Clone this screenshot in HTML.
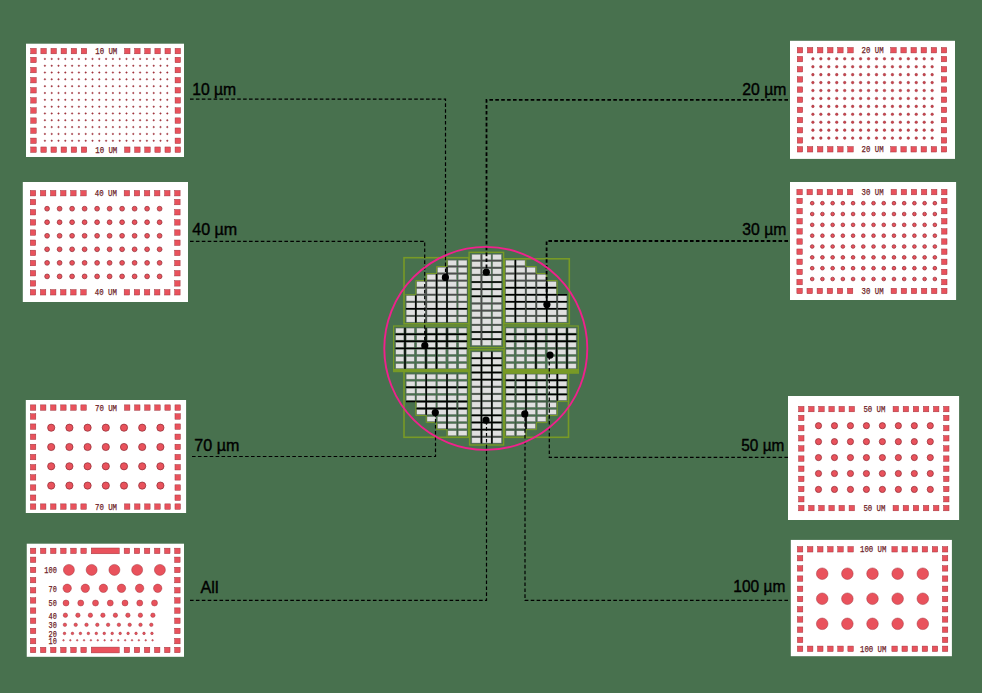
<!DOCTYPE html>
<html><head><meta charset="utf-8"><style>
html,body{margin:0;padding:0;background:#48714e;width:982px;height:693px;overflow:hidden}
svg{display:block}
.lb{font-family:"Liberation Mono",monospace;font-size:9px;fill:#6e1c25;stroke:#6e1c25;stroke-width:0.25}
.tx{font-family:"Liberation Sans",sans-serif;font-size:17px;fill:#000;stroke:#000;stroke-width:0.4}
</style></head><body>
<svg width="982" height="693" viewBox="0 0 982 693">
<rect width="982" height="693" fill="#48714e"/>
<g fill="#e9525c" stroke="#9a2f38" stroke-width="0.45">
<rect x="26" y="43.7" width="158" height="113.3" fill="#fff" stroke="none"/>
<rect x="30.77" y="48.37" width="5.45" height="5.45"/>
<rect x="175.07" y="48.37" width="5.45" height="5.45"/>
<rect x="40.87" y="48.37" width="5.45" height="5.45"/>
<rect x="164.97" y="48.37" width="5.45" height="5.45"/>
<rect x="50.97" y="48.37" width="5.45" height="5.45"/>
<rect x="154.87" y="48.37" width="5.45" height="5.45"/>
<rect x="61.07" y="48.37" width="5.45" height="5.45"/>
<rect x="144.77" y="48.37" width="5.45" height="5.45"/>
<rect x="71.17" y="48.37" width="5.45" height="5.45"/>
<rect x="134.67" y="48.37" width="5.45" height="5.45"/>
<rect x="81.27" y="48.37" width="5.45" height="5.45"/>
<rect x="124.57" y="48.37" width="5.45" height="5.45"/>
<rect x="30.77" y="146.97" width="5.45" height="5.45"/>
<rect x="175.07" y="146.97" width="5.45" height="5.45"/>
<rect x="40.87" y="146.97" width="5.45" height="5.45"/>
<rect x="164.97" y="146.97" width="5.45" height="5.45"/>
<rect x="50.97" y="146.97" width="5.45" height="5.45"/>
<rect x="154.87" y="146.97" width="5.45" height="5.45"/>
<rect x="61.07" y="146.97" width="5.45" height="5.45"/>
<rect x="144.77" y="146.97" width="5.45" height="5.45"/>
<rect x="71.17" y="146.97" width="5.45" height="5.45"/>
<rect x="134.67" y="146.97" width="5.45" height="5.45"/>
<rect x="81.27" y="146.97" width="5.45" height="5.45"/>
<rect x="124.57" y="146.97" width="5.45" height="5.45"/>
<rect x="30.77" y="57.27" width="5.45" height="5.45"/>
<rect x="30.77" y="67.37" width="5.45" height="5.45"/>
<rect x="30.77" y="77.47" width="5.45" height="5.45"/>
<rect x="30.77" y="87.57" width="5.45" height="5.45"/>
<rect x="30.77" y="97.67" width="5.45" height="5.45"/>
<rect x="30.77" y="107.77" width="5.45" height="5.45"/>
<rect x="30.77" y="117.87" width="5.45" height="5.45"/>
<rect x="30.77" y="127.97" width="5.45" height="5.45"/>
<rect x="30.77" y="138.07" width="5.45" height="5.45"/>
<rect x="175.07" y="57.27" width="5.45" height="5.45"/>
<rect x="175.07" y="67.37" width="5.45" height="5.45"/>
<rect x="175.07" y="77.47" width="5.45" height="5.45"/>
<rect x="175.07" y="87.57" width="5.45" height="5.45"/>
<rect x="175.07" y="97.67" width="5.45" height="5.45"/>
<rect x="175.07" y="107.77" width="5.45" height="5.45"/>
<rect x="175.07" y="117.87" width="5.45" height="5.45"/>
<rect x="175.07" y="127.97" width="5.45" height="5.45"/>
<rect x="175.07" y="138.07" width="5.45" height="5.45"/>
<text x="106.25" y="54.1" class="lb" text-anchor="middle" textLength="22.05" lengthAdjust="spacingAndGlyphs">10 UM</text>
<text x="106.25" y="152.7" class="lb" text-anchor="middle" textLength="22.05" lengthAdjust="spacingAndGlyphs">10 UM</text>
<circle cx="44.9" cy="58.9" r="0.75" fill="#a3303b"/>
<circle cx="51.7" cy="58.9" r="0.75" fill="#a3303b"/>
<circle cx="58.5" cy="58.9" r="0.75" fill="#a3303b"/>
<circle cx="65.3" cy="58.9" r="0.75" fill="#a3303b"/>
<circle cx="72.1" cy="58.9" r="0.75" fill="#a3303b"/>
<circle cx="78.9" cy="58.9" r="0.75" fill="#a3303b"/>
<circle cx="85.7" cy="58.9" r="0.75" fill="#a3303b"/>
<circle cx="92.5" cy="58.9" r="0.75" fill="#a3303b"/>
<circle cx="99.3" cy="58.9" r="0.75" fill="#a3303b"/>
<circle cx="106.1" cy="58.9" r="0.75" fill="#a3303b"/>
<circle cx="112.9" cy="58.9" r="0.75" fill="#a3303b"/>
<circle cx="119.7" cy="58.9" r="0.75" fill="#a3303b"/>
<circle cx="126.5" cy="58.9" r="0.75" fill="#a3303b"/>
<circle cx="133.3" cy="58.9" r="0.75" fill="#a3303b"/>
<circle cx="140.1" cy="58.9" r="0.75" fill="#a3303b"/>
<circle cx="146.9" cy="58.9" r="0.75" fill="#a3303b"/>
<circle cx="153.7" cy="58.9" r="0.75" fill="#a3303b"/>
<circle cx="160.5" cy="58.9" r="0.75" fill="#a3303b"/>
<circle cx="167.3" cy="58.9" r="0.75" fill="#a3303b"/>
<circle cx="44.9" cy="65.72" r="0.75" fill="#a3303b"/>
<circle cx="51.7" cy="65.72" r="0.75" fill="#a3303b"/>
<circle cx="58.5" cy="65.72" r="0.75" fill="#a3303b"/>
<circle cx="65.3" cy="65.72" r="0.75" fill="#a3303b"/>
<circle cx="72.1" cy="65.72" r="0.75" fill="#a3303b"/>
<circle cx="78.9" cy="65.72" r="0.75" fill="#a3303b"/>
<circle cx="85.7" cy="65.72" r="0.75" fill="#a3303b"/>
<circle cx="92.5" cy="65.72" r="0.75" fill="#a3303b"/>
<circle cx="99.3" cy="65.72" r="0.75" fill="#a3303b"/>
<circle cx="106.1" cy="65.72" r="0.75" fill="#a3303b"/>
<circle cx="112.9" cy="65.72" r="0.75" fill="#a3303b"/>
<circle cx="119.7" cy="65.72" r="0.75" fill="#a3303b"/>
<circle cx="126.5" cy="65.72" r="0.75" fill="#a3303b"/>
<circle cx="133.3" cy="65.72" r="0.75" fill="#a3303b"/>
<circle cx="140.1" cy="65.72" r="0.75" fill="#a3303b"/>
<circle cx="146.9" cy="65.72" r="0.75" fill="#a3303b"/>
<circle cx="153.7" cy="65.72" r="0.75" fill="#a3303b"/>
<circle cx="160.5" cy="65.72" r="0.75" fill="#a3303b"/>
<circle cx="167.3" cy="65.72" r="0.75" fill="#a3303b"/>
<circle cx="44.9" cy="72.54" r="0.75" fill="#a3303b"/>
<circle cx="51.7" cy="72.54" r="0.75" fill="#a3303b"/>
<circle cx="58.5" cy="72.54" r="0.75" fill="#a3303b"/>
<circle cx="65.3" cy="72.54" r="0.75" fill="#a3303b"/>
<circle cx="72.1" cy="72.54" r="0.75" fill="#a3303b"/>
<circle cx="78.9" cy="72.54" r="0.75" fill="#a3303b"/>
<circle cx="85.7" cy="72.54" r="0.75" fill="#a3303b"/>
<circle cx="92.5" cy="72.54" r="0.75" fill="#a3303b"/>
<circle cx="99.3" cy="72.54" r="0.75" fill="#a3303b"/>
<circle cx="106.1" cy="72.54" r="0.75" fill="#a3303b"/>
<circle cx="112.9" cy="72.54" r="0.75" fill="#a3303b"/>
<circle cx="119.7" cy="72.54" r="0.75" fill="#a3303b"/>
<circle cx="126.5" cy="72.54" r="0.75" fill="#a3303b"/>
<circle cx="133.3" cy="72.54" r="0.75" fill="#a3303b"/>
<circle cx="140.1" cy="72.54" r="0.75" fill="#a3303b"/>
<circle cx="146.9" cy="72.54" r="0.75" fill="#a3303b"/>
<circle cx="153.7" cy="72.54" r="0.75" fill="#a3303b"/>
<circle cx="160.5" cy="72.54" r="0.75" fill="#a3303b"/>
<circle cx="167.3" cy="72.54" r="0.75" fill="#a3303b"/>
<circle cx="44.9" cy="79.36" r="0.75" fill="#a3303b"/>
<circle cx="51.7" cy="79.36" r="0.75" fill="#a3303b"/>
<circle cx="58.5" cy="79.36" r="0.75" fill="#a3303b"/>
<circle cx="65.3" cy="79.36" r="0.75" fill="#a3303b"/>
<circle cx="72.1" cy="79.36" r="0.75" fill="#a3303b"/>
<circle cx="78.9" cy="79.36" r="0.75" fill="#a3303b"/>
<circle cx="85.7" cy="79.36" r="0.75" fill="#a3303b"/>
<circle cx="92.5" cy="79.36" r="0.75" fill="#a3303b"/>
<circle cx="99.3" cy="79.36" r="0.75" fill="#a3303b"/>
<circle cx="106.1" cy="79.36" r="0.75" fill="#a3303b"/>
<circle cx="112.9" cy="79.36" r="0.75" fill="#a3303b"/>
<circle cx="119.7" cy="79.36" r="0.75" fill="#a3303b"/>
<circle cx="126.5" cy="79.36" r="0.75" fill="#a3303b"/>
<circle cx="133.3" cy="79.36" r="0.75" fill="#a3303b"/>
<circle cx="140.1" cy="79.36" r="0.75" fill="#a3303b"/>
<circle cx="146.9" cy="79.36" r="0.75" fill="#a3303b"/>
<circle cx="153.7" cy="79.36" r="0.75" fill="#a3303b"/>
<circle cx="160.5" cy="79.36" r="0.75" fill="#a3303b"/>
<circle cx="167.3" cy="79.36" r="0.75" fill="#a3303b"/>
<circle cx="44.9" cy="86.18" r="0.75" fill="#a3303b"/>
<circle cx="51.7" cy="86.18" r="0.75" fill="#a3303b"/>
<circle cx="58.5" cy="86.18" r="0.75" fill="#a3303b"/>
<circle cx="65.3" cy="86.18" r="0.75" fill="#a3303b"/>
<circle cx="72.1" cy="86.18" r="0.75" fill="#a3303b"/>
<circle cx="78.9" cy="86.18" r="0.75" fill="#a3303b"/>
<circle cx="85.7" cy="86.18" r="0.75" fill="#a3303b"/>
<circle cx="92.5" cy="86.18" r="0.75" fill="#a3303b"/>
<circle cx="99.3" cy="86.18" r="0.75" fill="#a3303b"/>
<circle cx="106.1" cy="86.18" r="0.75" fill="#a3303b"/>
<circle cx="112.9" cy="86.18" r="0.75" fill="#a3303b"/>
<circle cx="119.7" cy="86.18" r="0.75" fill="#a3303b"/>
<circle cx="126.5" cy="86.18" r="0.75" fill="#a3303b"/>
<circle cx="133.3" cy="86.18" r="0.75" fill="#a3303b"/>
<circle cx="140.1" cy="86.18" r="0.75" fill="#a3303b"/>
<circle cx="146.9" cy="86.18" r="0.75" fill="#a3303b"/>
<circle cx="153.7" cy="86.18" r="0.75" fill="#a3303b"/>
<circle cx="160.5" cy="86.18" r="0.75" fill="#a3303b"/>
<circle cx="167.3" cy="86.18" r="0.75" fill="#a3303b"/>
<circle cx="44.9" cy="93" r="0.75" fill="#a3303b"/>
<circle cx="51.7" cy="93" r="0.75" fill="#a3303b"/>
<circle cx="58.5" cy="93" r="0.75" fill="#a3303b"/>
<circle cx="65.3" cy="93" r="0.75" fill="#a3303b"/>
<circle cx="72.1" cy="93" r="0.75" fill="#a3303b"/>
<circle cx="78.9" cy="93" r="0.75" fill="#a3303b"/>
<circle cx="85.7" cy="93" r="0.75" fill="#a3303b"/>
<circle cx="92.5" cy="93" r="0.75" fill="#a3303b"/>
<circle cx="99.3" cy="93" r="0.75" fill="#a3303b"/>
<circle cx="106.1" cy="93" r="0.75" fill="#a3303b"/>
<circle cx="112.9" cy="93" r="0.75" fill="#a3303b"/>
<circle cx="119.7" cy="93" r="0.75" fill="#a3303b"/>
<circle cx="126.5" cy="93" r="0.75" fill="#a3303b"/>
<circle cx="133.3" cy="93" r="0.75" fill="#a3303b"/>
<circle cx="140.1" cy="93" r="0.75" fill="#a3303b"/>
<circle cx="146.9" cy="93" r="0.75" fill="#a3303b"/>
<circle cx="153.7" cy="93" r="0.75" fill="#a3303b"/>
<circle cx="160.5" cy="93" r="0.75" fill="#a3303b"/>
<circle cx="167.3" cy="93" r="0.75" fill="#a3303b"/>
<circle cx="44.9" cy="99.82" r="0.75" fill="#a3303b"/>
<circle cx="51.7" cy="99.82" r="0.75" fill="#a3303b"/>
<circle cx="58.5" cy="99.82" r="0.75" fill="#a3303b"/>
<circle cx="65.3" cy="99.82" r="0.75" fill="#a3303b"/>
<circle cx="72.1" cy="99.82" r="0.75" fill="#a3303b"/>
<circle cx="78.9" cy="99.82" r="0.75" fill="#a3303b"/>
<circle cx="85.7" cy="99.82" r="0.75" fill="#a3303b"/>
<circle cx="92.5" cy="99.82" r="0.75" fill="#a3303b"/>
<circle cx="99.3" cy="99.82" r="0.75" fill="#a3303b"/>
<circle cx="106.1" cy="99.82" r="0.75" fill="#a3303b"/>
<circle cx="112.9" cy="99.82" r="0.75" fill="#a3303b"/>
<circle cx="119.7" cy="99.82" r="0.75" fill="#a3303b"/>
<circle cx="126.5" cy="99.82" r="0.75" fill="#a3303b"/>
<circle cx="133.3" cy="99.82" r="0.75" fill="#a3303b"/>
<circle cx="140.1" cy="99.82" r="0.75" fill="#a3303b"/>
<circle cx="146.9" cy="99.82" r="0.75" fill="#a3303b"/>
<circle cx="153.7" cy="99.82" r="0.75" fill="#a3303b"/>
<circle cx="160.5" cy="99.82" r="0.75" fill="#a3303b"/>
<circle cx="167.3" cy="99.82" r="0.75" fill="#a3303b"/>
<circle cx="44.9" cy="106.64" r="0.75" fill="#a3303b"/>
<circle cx="51.7" cy="106.64" r="0.75" fill="#a3303b"/>
<circle cx="58.5" cy="106.64" r="0.75" fill="#a3303b"/>
<circle cx="65.3" cy="106.64" r="0.75" fill="#a3303b"/>
<circle cx="72.1" cy="106.64" r="0.75" fill="#a3303b"/>
<circle cx="78.9" cy="106.64" r="0.75" fill="#a3303b"/>
<circle cx="85.7" cy="106.64" r="0.75" fill="#a3303b"/>
<circle cx="92.5" cy="106.64" r="0.75" fill="#a3303b"/>
<circle cx="99.3" cy="106.64" r="0.75" fill="#a3303b"/>
<circle cx="106.1" cy="106.64" r="0.75" fill="#a3303b"/>
<circle cx="112.9" cy="106.64" r="0.75" fill="#a3303b"/>
<circle cx="119.7" cy="106.64" r="0.75" fill="#a3303b"/>
<circle cx="126.5" cy="106.64" r="0.75" fill="#a3303b"/>
<circle cx="133.3" cy="106.64" r="0.75" fill="#a3303b"/>
<circle cx="140.1" cy="106.64" r="0.75" fill="#a3303b"/>
<circle cx="146.9" cy="106.64" r="0.75" fill="#a3303b"/>
<circle cx="153.7" cy="106.64" r="0.75" fill="#a3303b"/>
<circle cx="160.5" cy="106.64" r="0.75" fill="#a3303b"/>
<circle cx="167.3" cy="106.64" r="0.75" fill="#a3303b"/>
<circle cx="44.9" cy="113.46" r="0.75" fill="#a3303b"/>
<circle cx="51.7" cy="113.46" r="0.75" fill="#a3303b"/>
<circle cx="58.5" cy="113.46" r="0.75" fill="#a3303b"/>
<circle cx="65.3" cy="113.46" r="0.75" fill="#a3303b"/>
<circle cx="72.1" cy="113.46" r="0.75" fill="#a3303b"/>
<circle cx="78.9" cy="113.46" r="0.75" fill="#a3303b"/>
<circle cx="85.7" cy="113.46" r="0.75" fill="#a3303b"/>
<circle cx="92.5" cy="113.46" r="0.75" fill="#a3303b"/>
<circle cx="99.3" cy="113.46" r="0.75" fill="#a3303b"/>
<circle cx="106.1" cy="113.46" r="0.75" fill="#a3303b"/>
<circle cx="112.9" cy="113.46" r="0.75" fill="#a3303b"/>
<circle cx="119.7" cy="113.46" r="0.75" fill="#a3303b"/>
<circle cx="126.5" cy="113.46" r="0.75" fill="#a3303b"/>
<circle cx="133.3" cy="113.46" r="0.75" fill="#a3303b"/>
<circle cx="140.1" cy="113.46" r="0.75" fill="#a3303b"/>
<circle cx="146.9" cy="113.46" r="0.75" fill="#a3303b"/>
<circle cx="153.7" cy="113.46" r="0.75" fill="#a3303b"/>
<circle cx="160.5" cy="113.46" r="0.75" fill="#a3303b"/>
<circle cx="167.3" cy="113.46" r="0.75" fill="#a3303b"/>
<circle cx="44.9" cy="120.28" r="0.75" fill="#a3303b"/>
<circle cx="51.7" cy="120.28" r="0.75" fill="#a3303b"/>
<circle cx="58.5" cy="120.28" r="0.75" fill="#a3303b"/>
<circle cx="65.3" cy="120.28" r="0.75" fill="#a3303b"/>
<circle cx="72.1" cy="120.28" r="0.75" fill="#a3303b"/>
<circle cx="78.9" cy="120.28" r="0.75" fill="#a3303b"/>
<circle cx="85.7" cy="120.28" r="0.75" fill="#a3303b"/>
<circle cx="92.5" cy="120.28" r="0.75" fill="#a3303b"/>
<circle cx="99.3" cy="120.28" r="0.75" fill="#a3303b"/>
<circle cx="106.1" cy="120.28" r="0.75" fill="#a3303b"/>
<circle cx="112.9" cy="120.28" r="0.75" fill="#a3303b"/>
<circle cx="119.7" cy="120.28" r="0.75" fill="#a3303b"/>
<circle cx="126.5" cy="120.28" r="0.75" fill="#a3303b"/>
<circle cx="133.3" cy="120.28" r="0.75" fill="#a3303b"/>
<circle cx="140.1" cy="120.28" r="0.75" fill="#a3303b"/>
<circle cx="146.9" cy="120.28" r="0.75" fill="#a3303b"/>
<circle cx="153.7" cy="120.28" r="0.75" fill="#a3303b"/>
<circle cx="160.5" cy="120.28" r="0.75" fill="#a3303b"/>
<circle cx="167.3" cy="120.28" r="0.75" fill="#a3303b"/>
<circle cx="44.9" cy="127.1" r="0.75" fill="#a3303b"/>
<circle cx="51.7" cy="127.1" r="0.75" fill="#a3303b"/>
<circle cx="58.5" cy="127.1" r="0.75" fill="#a3303b"/>
<circle cx="65.3" cy="127.1" r="0.75" fill="#a3303b"/>
<circle cx="72.1" cy="127.1" r="0.75" fill="#a3303b"/>
<circle cx="78.9" cy="127.1" r="0.75" fill="#a3303b"/>
<circle cx="85.7" cy="127.1" r="0.75" fill="#a3303b"/>
<circle cx="92.5" cy="127.1" r="0.75" fill="#a3303b"/>
<circle cx="99.3" cy="127.1" r="0.75" fill="#a3303b"/>
<circle cx="106.1" cy="127.1" r="0.75" fill="#a3303b"/>
<circle cx="112.9" cy="127.1" r="0.75" fill="#a3303b"/>
<circle cx="119.7" cy="127.1" r="0.75" fill="#a3303b"/>
<circle cx="126.5" cy="127.1" r="0.75" fill="#a3303b"/>
<circle cx="133.3" cy="127.1" r="0.75" fill="#a3303b"/>
<circle cx="140.1" cy="127.1" r="0.75" fill="#a3303b"/>
<circle cx="146.9" cy="127.1" r="0.75" fill="#a3303b"/>
<circle cx="153.7" cy="127.1" r="0.75" fill="#a3303b"/>
<circle cx="160.5" cy="127.1" r="0.75" fill="#a3303b"/>
<circle cx="167.3" cy="127.1" r="0.75" fill="#a3303b"/>
<circle cx="44.9" cy="133.92" r="0.75" fill="#a3303b"/>
<circle cx="51.7" cy="133.92" r="0.75" fill="#a3303b"/>
<circle cx="58.5" cy="133.92" r="0.75" fill="#a3303b"/>
<circle cx="65.3" cy="133.92" r="0.75" fill="#a3303b"/>
<circle cx="72.1" cy="133.92" r="0.75" fill="#a3303b"/>
<circle cx="78.9" cy="133.92" r="0.75" fill="#a3303b"/>
<circle cx="85.7" cy="133.92" r="0.75" fill="#a3303b"/>
<circle cx="92.5" cy="133.92" r="0.75" fill="#a3303b"/>
<circle cx="99.3" cy="133.92" r="0.75" fill="#a3303b"/>
<circle cx="106.1" cy="133.92" r="0.75" fill="#a3303b"/>
<circle cx="112.9" cy="133.92" r="0.75" fill="#a3303b"/>
<circle cx="119.7" cy="133.92" r="0.75" fill="#a3303b"/>
<circle cx="126.5" cy="133.92" r="0.75" fill="#a3303b"/>
<circle cx="133.3" cy="133.92" r="0.75" fill="#a3303b"/>
<circle cx="140.1" cy="133.92" r="0.75" fill="#a3303b"/>
<circle cx="146.9" cy="133.92" r="0.75" fill="#a3303b"/>
<circle cx="153.7" cy="133.92" r="0.75" fill="#a3303b"/>
<circle cx="160.5" cy="133.92" r="0.75" fill="#a3303b"/>
<circle cx="167.3" cy="133.92" r="0.75" fill="#a3303b"/>
<circle cx="44.9" cy="140.74" r="0.75" fill="#a3303b"/>
<circle cx="51.7" cy="140.74" r="0.75" fill="#a3303b"/>
<circle cx="58.5" cy="140.74" r="0.75" fill="#a3303b"/>
<circle cx="65.3" cy="140.74" r="0.75" fill="#a3303b"/>
<circle cx="72.1" cy="140.74" r="0.75" fill="#a3303b"/>
<circle cx="78.9" cy="140.74" r="0.75" fill="#a3303b"/>
<circle cx="85.7" cy="140.74" r="0.75" fill="#a3303b"/>
<circle cx="92.5" cy="140.74" r="0.75" fill="#a3303b"/>
<circle cx="99.3" cy="140.74" r="0.75" fill="#a3303b"/>
<circle cx="106.1" cy="140.74" r="0.75" fill="#a3303b"/>
<circle cx="112.9" cy="140.74" r="0.75" fill="#a3303b"/>
<circle cx="119.7" cy="140.74" r="0.75" fill="#a3303b"/>
<circle cx="126.5" cy="140.74" r="0.75" fill="#a3303b"/>
<circle cx="133.3" cy="140.74" r="0.75" fill="#a3303b"/>
<circle cx="140.1" cy="140.74" r="0.75" fill="#a3303b"/>
<circle cx="146.9" cy="140.74" r="0.75" fill="#a3303b"/>
<circle cx="153.7" cy="140.74" r="0.75" fill="#a3303b"/>
<circle cx="160.5" cy="140.74" r="0.75" fill="#a3303b"/>
<circle cx="167.3" cy="140.74" r="0.75" fill="#a3303b"/>
<rect x="22.8" y="182" width="165.2" height="120" fill="#fff" stroke="none"/>
<rect x="30.27" y="190.47" width="5.45" height="5.45"/>
<rect x="174.67" y="190.47" width="5.45" height="5.45"/>
<rect x="40.37" y="190.47" width="5.45" height="5.45"/>
<rect x="164.57" y="190.47" width="5.45" height="5.45"/>
<rect x="50.47" y="190.47" width="5.45" height="5.45"/>
<rect x="154.47" y="190.47" width="5.45" height="5.45"/>
<rect x="60.57" y="190.47" width="5.45" height="5.45"/>
<rect x="144.37" y="190.47" width="5.45" height="5.45"/>
<rect x="70.67" y="190.47" width="5.45" height="5.45"/>
<rect x="134.27" y="190.47" width="5.45" height="5.45"/>
<rect x="80.77" y="190.47" width="5.45" height="5.45"/>
<rect x="124.17" y="190.47" width="5.45" height="5.45"/>
<rect x="30.27" y="289.57" width="5.45" height="5.45"/>
<rect x="174.67" y="289.57" width="5.45" height="5.45"/>
<rect x="40.37" y="289.57" width="5.45" height="5.45"/>
<rect x="164.57" y="289.57" width="5.45" height="5.45"/>
<rect x="50.47" y="289.57" width="5.45" height="5.45"/>
<rect x="154.47" y="289.57" width="5.45" height="5.45"/>
<rect x="60.57" y="289.57" width="5.45" height="5.45"/>
<rect x="144.37" y="289.57" width="5.45" height="5.45"/>
<rect x="70.67" y="289.57" width="5.45" height="5.45"/>
<rect x="134.27" y="289.57" width="5.45" height="5.45"/>
<rect x="80.77" y="289.57" width="5.45" height="5.45"/>
<rect x="124.17" y="289.57" width="5.45" height="5.45"/>
<rect x="30.27" y="199.37" width="5.45" height="5.45"/>
<rect x="30.27" y="209.53" width="5.45" height="5.45"/>
<rect x="30.27" y="219.69" width="5.45" height="5.45"/>
<rect x="30.27" y="229.86" width="5.45" height="5.45"/>
<rect x="30.27" y="240.02" width="5.45" height="5.45"/>
<rect x="30.27" y="250.18" width="5.45" height="5.45"/>
<rect x="30.27" y="260.35" width="5.45" height="5.45"/>
<rect x="30.27" y="270.51" width="5.45" height="5.45"/>
<rect x="30.27" y="280.67" width="5.45" height="5.45"/>
<rect x="174.67" y="199.37" width="5.45" height="5.45"/>
<rect x="174.67" y="209.53" width="5.45" height="5.45"/>
<rect x="174.67" y="219.69" width="5.45" height="5.45"/>
<rect x="174.67" y="229.86" width="5.45" height="5.45"/>
<rect x="174.67" y="240.02" width="5.45" height="5.45"/>
<rect x="174.67" y="250.18" width="5.45" height="5.45"/>
<rect x="174.67" y="260.35" width="5.45" height="5.45"/>
<rect x="174.67" y="270.51" width="5.45" height="5.45"/>
<rect x="174.67" y="280.67" width="5.45" height="5.45"/>
<text x="105.8" y="196.2" class="lb" text-anchor="middle" textLength="22.05" lengthAdjust="spacingAndGlyphs">40 UM</text>
<text x="105.8" y="295.3" class="lb" text-anchor="middle" textLength="22.05" lengthAdjust="spacingAndGlyphs">40 UM</text>
<circle cx="47.1" cy="208.7" stroke="#8e2831" stroke-width="0.7" r="2.4"/>
<circle cx="59.6" cy="208.7" stroke="#8e2831" stroke-width="0.7" r="2.4"/>
<circle cx="72.1" cy="208.7" stroke="#8e2831" stroke-width="0.7" r="2.4"/>
<circle cx="84.6" cy="208.7" stroke="#8e2831" stroke-width="0.7" r="2.4"/>
<circle cx="97.1" cy="208.7" stroke="#8e2831" stroke-width="0.7" r="2.4"/>
<circle cx="109.6" cy="208.7" stroke="#8e2831" stroke-width="0.7" r="2.4"/>
<circle cx="122.1" cy="208.7" stroke="#8e2831" stroke-width="0.7" r="2.4"/>
<circle cx="134.6" cy="208.7" stroke="#8e2831" stroke-width="0.7" r="2.4"/>
<circle cx="147.1" cy="208.7" stroke="#8e2831" stroke-width="0.7" r="2.4"/>
<circle cx="159.6" cy="208.7" stroke="#8e2831" stroke-width="0.7" r="2.4"/>
<circle cx="47.1" cy="222.24" stroke="#8e2831" stroke-width="0.7" r="2.4"/>
<circle cx="59.6" cy="222.24" stroke="#8e2831" stroke-width="0.7" r="2.4"/>
<circle cx="72.1" cy="222.24" stroke="#8e2831" stroke-width="0.7" r="2.4"/>
<circle cx="84.6" cy="222.24" stroke="#8e2831" stroke-width="0.7" r="2.4"/>
<circle cx="97.1" cy="222.24" stroke="#8e2831" stroke-width="0.7" r="2.4"/>
<circle cx="109.6" cy="222.24" stroke="#8e2831" stroke-width="0.7" r="2.4"/>
<circle cx="122.1" cy="222.24" stroke="#8e2831" stroke-width="0.7" r="2.4"/>
<circle cx="134.6" cy="222.24" stroke="#8e2831" stroke-width="0.7" r="2.4"/>
<circle cx="147.1" cy="222.24" stroke="#8e2831" stroke-width="0.7" r="2.4"/>
<circle cx="159.6" cy="222.24" stroke="#8e2831" stroke-width="0.7" r="2.4"/>
<circle cx="47.1" cy="235.78" stroke="#8e2831" stroke-width="0.7" r="2.4"/>
<circle cx="59.6" cy="235.78" stroke="#8e2831" stroke-width="0.7" r="2.4"/>
<circle cx="72.1" cy="235.78" stroke="#8e2831" stroke-width="0.7" r="2.4"/>
<circle cx="84.6" cy="235.78" stroke="#8e2831" stroke-width="0.7" r="2.4"/>
<circle cx="97.1" cy="235.78" stroke="#8e2831" stroke-width="0.7" r="2.4"/>
<circle cx="109.6" cy="235.78" stroke="#8e2831" stroke-width="0.7" r="2.4"/>
<circle cx="122.1" cy="235.78" stroke="#8e2831" stroke-width="0.7" r="2.4"/>
<circle cx="134.6" cy="235.78" stroke="#8e2831" stroke-width="0.7" r="2.4"/>
<circle cx="147.1" cy="235.78" stroke="#8e2831" stroke-width="0.7" r="2.4"/>
<circle cx="159.6" cy="235.78" stroke="#8e2831" stroke-width="0.7" r="2.4"/>
<circle cx="47.1" cy="249.32" stroke="#8e2831" stroke-width="0.7" r="2.4"/>
<circle cx="59.6" cy="249.32" stroke="#8e2831" stroke-width="0.7" r="2.4"/>
<circle cx="72.1" cy="249.32" stroke="#8e2831" stroke-width="0.7" r="2.4"/>
<circle cx="84.6" cy="249.32" stroke="#8e2831" stroke-width="0.7" r="2.4"/>
<circle cx="97.1" cy="249.32" stroke="#8e2831" stroke-width="0.7" r="2.4"/>
<circle cx="109.6" cy="249.32" stroke="#8e2831" stroke-width="0.7" r="2.4"/>
<circle cx="122.1" cy="249.32" stroke="#8e2831" stroke-width="0.7" r="2.4"/>
<circle cx="134.6" cy="249.32" stroke="#8e2831" stroke-width="0.7" r="2.4"/>
<circle cx="147.1" cy="249.32" stroke="#8e2831" stroke-width="0.7" r="2.4"/>
<circle cx="159.6" cy="249.32" stroke="#8e2831" stroke-width="0.7" r="2.4"/>
<circle cx="47.1" cy="262.86" stroke="#8e2831" stroke-width="0.7" r="2.4"/>
<circle cx="59.6" cy="262.86" stroke="#8e2831" stroke-width="0.7" r="2.4"/>
<circle cx="72.1" cy="262.86" stroke="#8e2831" stroke-width="0.7" r="2.4"/>
<circle cx="84.6" cy="262.86" stroke="#8e2831" stroke-width="0.7" r="2.4"/>
<circle cx="97.1" cy="262.86" stroke="#8e2831" stroke-width="0.7" r="2.4"/>
<circle cx="109.6" cy="262.86" stroke="#8e2831" stroke-width="0.7" r="2.4"/>
<circle cx="122.1" cy="262.86" stroke="#8e2831" stroke-width="0.7" r="2.4"/>
<circle cx="134.6" cy="262.86" stroke="#8e2831" stroke-width="0.7" r="2.4"/>
<circle cx="147.1" cy="262.86" stroke="#8e2831" stroke-width="0.7" r="2.4"/>
<circle cx="159.6" cy="262.86" stroke="#8e2831" stroke-width="0.7" r="2.4"/>
<circle cx="47.1" cy="276.4" stroke="#8e2831" stroke-width="0.7" r="2.4"/>
<circle cx="59.6" cy="276.4" stroke="#8e2831" stroke-width="0.7" r="2.4"/>
<circle cx="72.1" cy="276.4" stroke="#8e2831" stroke-width="0.7" r="2.4"/>
<circle cx="84.6" cy="276.4" stroke="#8e2831" stroke-width="0.7" r="2.4"/>
<circle cx="97.1" cy="276.4" stroke="#8e2831" stroke-width="0.7" r="2.4"/>
<circle cx="109.6" cy="276.4" stroke="#8e2831" stroke-width="0.7" r="2.4"/>
<circle cx="122.1" cy="276.4" stroke="#8e2831" stroke-width="0.7" r="2.4"/>
<circle cx="134.6" cy="276.4" stroke="#8e2831" stroke-width="0.7" r="2.4"/>
<circle cx="147.1" cy="276.4" stroke="#8e2831" stroke-width="0.7" r="2.4"/>
<circle cx="159.6" cy="276.4" stroke="#8e2831" stroke-width="0.7" r="2.4"/>
<rect x="25.8" y="400" width="160.3" height="113" fill="#fff" stroke="none"/>
<rect x="30.37" y="404.87" width="5.45" height="5.45"/>
<rect x="174.97" y="404.87" width="5.45" height="5.45"/>
<rect x="40.47" y="404.87" width="5.45" height="5.45"/>
<rect x="164.87" y="404.87" width="5.45" height="5.45"/>
<rect x="50.57" y="404.87" width="5.45" height="5.45"/>
<rect x="154.77" y="404.87" width="5.45" height="5.45"/>
<rect x="60.67" y="404.87" width="5.45" height="5.45"/>
<rect x="144.67" y="404.87" width="5.45" height="5.45"/>
<rect x="70.77" y="404.87" width="5.45" height="5.45"/>
<rect x="134.57" y="404.87" width="5.45" height="5.45"/>
<rect x="80.87" y="404.87" width="5.45" height="5.45"/>
<rect x="124.47" y="404.87" width="5.45" height="5.45"/>
<rect x="30.37" y="503.87" width="5.45" height="5.45"/>
<rect x="174.97" y="503.87" width="5.45" height="5.45"/>
<rect x="40.47" y="503.87" width="5.45" height="5.45"/>
<rect x="164.87" y="503.87" width="5.45" height="5.45"/>
<rect x="50.57" y="503.87" width="5.45" height="5.45"/>
<rect x="154.77" y="503.87" width="5.45" height="5.45"/>
<rect x="60.67" y="503.87" width="5.45" height="5.45"/>
<rect x="144.67" y="503.87" width="5.45" height="5.45"/>
<rect x="70.77" y="503.87" width="5.45" height="5.45"/>
<rect x="134.57" y="503.87" width="5.45" height="5.45"/>
<rect x="80.87" y="503.87" width="5.45" height="5.45"/>
<rect x="124.47" y="503.87" width="5.45" height="5.45"/>
<rect x="30.37" y="413.77" width="5.45" height="5.45"/>
<rect x="30.37" y="423.92" width="5.45" height="5.45"/>
<rect x="30.37" y="434.07" width="5.45" height="5.45"/>
<rect x="30.37" y="444.22" width="5.45" height="5.45"/>
<rect x="30.37" y="454.37" width="5.45" height="5.45"/>
<rect x="30.37" y="464.52" width="5.45" height="5.45"/>
<rect x="30.37" y="474.67" width="5.45" height="5.45"/>
<rect x="30.37" y="484.82" width="5.45" height="5.45"/>
<rect x="30.37" y="494.97" width="5.45" height="5.45"/>
<rect x="174.97" y="413.77" width="5.45" height="5.45"/>
<rect x="174.97" y="423.92" width="5.45" height="5.45"/>
<rect x="174.97" y="434.07" width="5.45" height="5.45"/>
<rect x="174.97" y="444.22" width="5.45" height="5.45"/>
<rect x="174.97" y="454.37" width="5.45" height="5.45"/>
<rect x="174.97" y="464.52" width="5.45" height="5.45"/>
<rect x="174.97" y="474.67" width="5.45" height="5.45"/>
<rect x="174.97" y="484.82" width="5.45" height="5.45"/>
<rect x="174.97" y="494.97" width="5.45" height="5.45"/>
<text x="106" y="410.6" class="lb" text-anchor="middle" textLength="22.05" lengthAdjust="spacingAndGlyphs">70 UM</text>
<text x="106" y="509.6" class="lb" text-anchor="middle" textLength="22.05" lengthAdjust="spacingAndGlyphs">70 UM</text>
<circle cx="51.2" cy="427.7" stroke="#8e2831" stroke-width="0.7" r="3.6"/>
<circle cx="69.4" cy="427.7" stroke="#8e2831" stroke-width="0.7" r="3.6"/>
<circle cx="87.6" cy="427.7" stroke="#8e2831" stroke-width="0.7" r="3.6"/>
<circle cx="105.8" cy="427.7" stroke="#8e2831" stroke-width="0.7" r="3.6"/>
<circle cx="124" cy="427.7" stroke="#8e2831" stroke-width="0.7" r="3.6"/>
<circle cx="142.2" cy="427.7" stroke="#8e2831" stroke-width="0.7" r="3.6"/>
<circle cx="160.4" cy="427.7" stroke="#8e2831" stroke-width="0.7" r="3.6"/>
<circle cx="51.2" cy="447" stroke="#8e2831" stroke-width="0.7" r="3.6"/>
<circle cx="69.4" cy="447" stroke="#8e2831" stroke-width="0.7" r="3.6"/>
<circle cx="87.6" cy="447" stroke="#8e2831" stroke-width="0.7" r="3.6"/>
<circle cx="105.8" cy="447" stroke="#8e2831" stroke-width="0.7" r="3.6"/>
<circle cx="124" cy="447" stroke="#8e2831" stroke-width="0.7" r="3.6"/>
<circle cx="142.2" cy="447" stroke="#8e2831" stroke-width="0.7" r="3.6"/>
<circle cx="160.4" cy="447" stroke="#8e2831" stroke-width="0.7" r="3.6"/>
<circle cx="51.2" cy="466.3" stroke="#8e2831" stroke-width="0.7" r="3.6"/>
<circle cx="69.4" cy="466.3" stroke="#8e2831" stroke-width="0.7" r="3.6"/>
<circle cx="87.6" cy="466.3" stroke="#8e2831" stroke-width="0.7" r="3.6"/>
<circle cx="105.8" cy="466.3" stroke="#8e2831" stroke-width="0.7" r="3.6"/>
<circle cx="124" cy="466.3" stroke="#8e2831" stroke-width="0.7" r="3.6"/>
<circle cx="142.2" cy="466.3" stroke="#8e2831" stroke-width="0.7" r="3.6"/>
<circle cx="160.4" cy="466.3" stroke="#8e2831" stroke-width="0.7" r="3.6"/>
<circle cx="51.2" cy="485.6" stroke="#8e2831" stroke-width="0.7" r="3.6"/>
<circle cx="69.4" cy="485.6" stroke="#8e2831" stroke-width="0.7" r="3.6"/>
<circle cx="87.6" cy="485.6" stroke="#8e2831" stroke-width="0.7" r="3.6"/>
<circle cx="105.8" cy="485.6" stroke="#8e2831" stroke-width="0.7" r="3.6"/>
<circle cx="124" cy="485.6" stroke="#8e2831" stroke-width="0.7" r="3.6"/>
<circle cx="142.2" cy="485.6" stroke="#8e2831" stroke-width="0.7" r="3.6"/>
<circle cx="160.4" cy="485.6" stroke="#8e2831" stroke-width="0.7" r="3.6"/>
<rect x="26.75" y="543.7" width="157.25" height="113.1" fill="#fff" stroke="none"/>
<rect x="30.37" y="548.17" width="5.45" height="5.45"/>
<rect x="174.67" y="548.17" width="5.45" height="5.45"/>
<rect x="40.47" y="548.17" width="5.45" height="5.45"/>
<rect x="164.57" y="548.17" width="5.45" height="5.45"/>
<rect x="50.57" y="548.17" width="5.45" height="5.45"/>
<rect x="154.47" y="548.17" width="5.45" height="5.45"/>
<rect x="60.67" y="548.17" width="5.45" height="5.45"/>
<rect x="144.37" y="548.17" width="5.45" height="5.45"/>
<rect x="70.77" y="548.17" width="5.45" height="5.45"/>
<rect x="134.27" y="548.17" width="5.45" height="5.45"/>
<rect x="80.87" y="548.17" width="5.45" height="5.45"/>
<rect x="124.17" y="548.17" width="5.45" height="5.45"/>
<rect x="30.37" y="647.27" width="5.45" height="5.45"/>
<rect x="174.67" y="647.27" width="5.45" height="5.45"/>
<rect x="40.47" y="647.27" width="5.45" height="5.45"/>
<rect x="164.57" y="647.27" width="5.45" height="5.45"/>
<rect x="50.57" y="647.27" width="5.45" height="5.45"/>
<rect x="154.47" y="647.27" width="5.45" height="5.45"/>
<rect x="60.67" y="647.27" width="5.45" height="5.45"/>
<rect x="144.37" y="647.27" width="5.45" height="5.45"/>
<rect x="70.77" y="647.27" width="5.45" height="5.45"/>
<rect x="134.27" y="647.27" width="5.45" height="5.45"/>
<rect x="80.87" y="647.27" width="5.45" height="5.45"/>
<rect x="124.17" y="647.27" width="5.45" height="5.45"/>
<rect x="30.37" y="557.07" width="5.45" height="5.45"/>
<rect x="30.37" y="567.23" width="5.45" height="5.45"/>
<rect x="30.37" y="577.39" width="5.45" height="5.45"/>
<rect x="30.37" y="587.56" width="5.45" height="5.45"/>
<rect x="30.37" y="597.72" width="5.45" height="5.45"/>
<rect x="30.37" y="607.88" width="5.45" height="5.45"/>
<rect x="30.37" y="618.04" width="5.45" height="5.45"/>
<rect x="30.37" y="628.21" width="5.45" height="5.45"/>
<rect x="30.37" y="638.37" width="5.45" height="5.45"/>
<rect x="174.67" y="557.07" width="5.45" height="5.45"/>
<rect x="174.67" y="567.23" width="5.45" height="5.45"/>
<rect x="174.67" y="577.39" width="5.45" height="5.45"/>
<rect x="174.67" y="587.56" width="5.45" height="5.45"/>
<rect x="174.67" y="597.72" width="5.45" height="5.45"/>
<rect x="174.67" y="607.88" width="5.45" height="5.45"/>
<rect x="174.67" y="618.04" width="5.45" height="5.45"/>
<rect x="174.67" y="628.21" width="5.45" height="5.45"/>
<rect x="174.67" y="638.37" width="5.45" height="5.45"/>
<rect x="91.25" y="548" width="28" height="5.8"/>
<rect x="91.25" y="647.1" width="28" height="5.8"/>
<text x="56.8" y="573.2" class="lb" text-anchor="end" textLength="12.5" lengthAdjust="spacingAndGlyphs">100</text>
<circle cx="68.9" cy="569.9" r="5.5"/>
<circle cx="91.65" cy="569.9" r="5.5"/>
<circle cx="114.4" cy="569.9" r="5.5"/>
<circle cx="137.15" cy="569.9" r="5.5"/>
<circle cx="159.9" cy="569.9" r="5.5"/>
<text x="56.8" y="591.6" class="lb" text-anchor="end" textLength="8.2" lengthAdjust="spacingAndGlyphs">70</text>
<circle cx="67.2" cy="588.3" r="4.2"/>
<circle cx="85.3" cy="588.3" r="4.2"/>
<circle cx="103.4" cy="588.3" r="4.2"/>
<circle cx="121.5" cy="588.3" r="4.2"/>
<circle cx="139.6" cy="588.3" r="4.2"/>
<circle cx="157.7" cy="588.3" r="4.2"/>
<text x="56.8" y="606.3" class="lb" text-anchor="end" textLength="8.2" lengthAdjust="spacingAndGlyphs">50</text>
<circle cx="66" cy="603" r="3.0"/>
<circle cx="80.75" cy="603" r="3.0"/>
<circle cx="95.5" cy="603" r="3.0"/>
<circle cx="110.25" cy="603" r="3.0"/>
<circle cx="125" cy="603" r="3.0"/>
<circle cx="139.75" cy="603" r="3.0"/>
<circle cx="154.5" cy="603" r="3.0"/>
<text x="56.8" y="618.5" class="lb" text-anchor="end" textLength="8.2" lengthAdjust="spacingAndGlyphs">40</text>
<circle cx="65.4" cy="615.2" r="2.2"/>
<circle cx="77.9" cy="615.2" r="2.2"/>
<circle cx="90.4" cy="615.2" r="2.2"/>
<circle cx="102.9" cy="615.2" r="2.2"/>
<circle cx="115.4" cy="615.2" r="2.2"/>
<circle cx="127.9" cy="615.2" r="2.2"/>
<circle cx="140.4" cy="615.2" r="2.2"/>
<circle cx="152.9" cy="615.2" r="2.2"/>
<text x="56.8" y="628.1" class="lb" text-anchor="end" textLength="8.2" lengthAdjust="spacingAndGlyphs">30</text>
<circle cx="64.9" cy="624.8" r="1.75"/>
<circle cx="75.7" cy="624.8" r="1.75"/>
<circle cx="86.5" cy="624.8" r="1.75"/>
<circle cx="97.3" cy="624.8" r="1.75"/>
<circle cx="108.1" cy="624.8" r="1.75"/>
<circle cx="118.9" cy="624.8" r="1.75"/>
<circle cx="129.7" cy="624.8" r="1.75"/>
<circle cx="140.5" cy="624.8" r="1.75"/>
<circle cx="151.3" cy="624.8" r="1.75"/>
<text x="56.8" y="636.7" class="lb" text-anchor="end" textLength="8.2" lengthAdjust="spacingAndGlyphs">20</text>
<circle cx="64.5" cy="633.4" r="1.3"/>
<circle cx="72.45" cy="633.4" r="1.3"/>
<circle cx="80.4" cy="633.4" r="1.3"/>
<circle cx="88.35" cy="633.4" r="1.3"/>
<circle cx="96.3" cy="633.4" r="1.3"/>
<circle cx="104.25" cy="633.4" r="1.3"/>
<circle cx="112.2" cy="633.4" r="1.3"/>
<circle cx="120.15" cy="633.4" r="1.3"/>
<circle cx="128.1" cy="633.4" r="1.3"/>
<circle cx="136.05" cy="633.4" r="1.3"/>
<circle cx="144" cy="633.4" r="1.3"/>
<circle cx="151.95" cy="633.4" r="1.3"/>
<text x="56.8" y="643.6" class="lb" text-anchor="end" textLength="8.2" lengthAdjust="spacingAndGlyphs">10</text>
<circle cx="63.5" cy="640.3" r="0.8"/>
<circle cx="70.35" cy="640.3" r="0.8"/>
<circle cx="77.2" cy="640.3" r="0.8"/>
<circle cx="84.05" cy="640.3" r="0.8"/>
<circle cx="90.9" cy="640.3" r="0.8"/>
<circle cx="97.75" cy="640.3" r="0.8"/>
<circle cx="104.6" cy="640.3" r="0.8"/>
<circle cx="111.45" cy="640.3" r="0.8"/>
<circle cx="118.3" cy="640.3" r="0.8"/>
<circle cx="125.15" cy="640.3" r="0.8"/>
<circle cx="132" cy="640.3" r="0.8"/>
<circle cx="138.85" cy="640.3" r="0.8"/>
<circle cx="145.7" cy="640.3" r="0.8"/>
<circle cx="152.55" cy="640.3" r="0.8"/>
<rect x="790" y="40.8" width="165" height="118.1" fill="#fff" stroke="none"/>
<rect x="797.27" y="47.47" width="5.45" height="5.45"/>
<rect x="941.27" y="47.47" width="5.45" height="5.45"/>
<rect x="807.37" y="47.47" width="5.45" height="5.45"/>
<rect x="931.17" y="47.47" width="5.45" height="5.45"/>
<rect x="817.47" y="47.47" width="5.45" height="5.45"/>
<rect x="921.07" y="47.47" width="5.45" height="5.45"/>
<rect x="827.57" y="47.47" width="5.45" height="5.45"/>
<rect x="910.97" y="47.47" width="5.45" height="5.45"/>
<rect x="837.67" y="47.47" width="5.45" height="5.45"/>
<rect x="900.87" y="47.47" width="5.45" height="5.45"/>
<rect x="847.77" y="47.47" width="5.45" height="5.45"/>
<rect x="890.77" y="47.47" width="5.45" height="5.45"/>
<rect x="797.27" y="146.57" width="5.45" height="5.45"/>
<rect x="941.27" y="146.57" width="5.45" height="5.45"/>
<rect x="807.37" y="146.57" width="5.45" height="5.45"/>
<rect x="931.17" y="146.57" width="5.45" height="5.45"/>
<rect x="817.47" y="146.57" width="5.45" height="5.45"/>
<rect x="921.07" y="146.57" width="5.45" height="5.45"/>
<rect x="827.57" y="146.57" width="5.45" height="5.45"/>
<rect x="910.97" y="146.57" width="5.45" height="5.45"/>
<rect x="837.67" y="146.57" width="5.45" height="5.45"/>
<rect x="900.87" y="146.57" width="5.45" height="5.45"/>
<rect x="847.77" y="146.57" width="5.45" height="5.45"/>
<rect x="890.77" y="146.57" width="5.45" height="5.45"/>
<rect x="797.27" y="56.37" width="5.45" height="5.45"/>
<rect x="797.27" y="66.53" width="5.45" height="5.45"/>
<rect x="797.27" y="76.7" width="5.45" height="5.45"/>
<rect x="797.27" y="86.86" width="5.45" height="5.45"/>
<rect x="797.27" y="97.02" width="5.45" height="5.45"/>
<rect x="797.27" y="107.18" width="5.45" height="5.45"/>
<rect x="797.27" y="117.35" width="5.45" height="5.45"/>
<rect x="797.27" y="127.51" width="5.45" height="5.45"/>
<rect x="797.27" y="137.67" width="5.45" height="5.45"/>
<rect x="941.27" y="56.37" width="5.45" height="5.45"/>
<rect x="941.27" y="66.53" width="5.45" height="5.45"/>
<rect x="941.27" y="76.7" width="5.45" height="5.45"/>
<rect x="941.27" y="86.86" width="5.45" height="5.45"/>
<rect x="941.27" y="97.02" width="5.45" height="5.45"/>
<rect x="941.27" y="107.18" width="5.45" height="5.45"/>
<rect x="941.27" y="117.35" width="5.45" height="5.45"/>
<rect x="941.27" y="127.51" width="5.45" height="5.45"/>
<rect x="941.27" y="137.67" width="5.45" height="5.45"/>
<text x="872.6" y="53.2" class="lb" text-anchor="middle" textLength="22.05" lengthAdjust="spacingAndGlyphs">20 UM</text>
<text x="872.6" y="152.3" class="lb" text-anchor="middle" textLength="22.05" lengthAdjust="spacingAndGlyphs">20 UM</text>
<circle cx="812.9" cy="58.8" r="1.3" fill="#c8434d"/>
<circle cx="820.85" cy="58.8" r="1.3" fill="#c8434d"/>
<circle cx="828.8" cy="58.8" r="1.3" fill="#c8434d"/>
<circle cx="836.75" cy="58.8" r="1.3" fill="#c8434d"/>
<circle cx="844.7" cy="58.8" r="1.3" fill="#c8434d"/>
<circle cx="852.65" cy="58.8" r="1.3" fill="#c8434d"/>
<circle cx="860.6" cy="58.8" r="1.3" fill="#c8434d"/>
<circle cx="868.55" cy="58.8" r="1.3" fill="#c8434d"/>
<circle cx="876.5" cy="58.8" r="1.3" fill="#c8434d"/>
<circle cx="884.45" cy="58.8" r="1.3" fill="#c8434d"/>
<circle cx="892.4" cy="58.8" r="1.3" fill="#c8434d"/>
<circle cx="900.35" cy="58.8" r="1.3" fill="#c8434d"/>
<circle cx="908.3" cy="58.8" r="1.3" fill="#c8434d"/>
<circle cx="916.25" cy="58.8" r="1.3" fill="#c8434d"/>
<circle cx="924.2" cy="58.8" r="1.3" fill="#c8434d"/>
<circle cx="932.15" cy="58.8" r="1.3" fill="#c8434d"/>
<circle cx="812.9" cy="66.73" r="1.3" fill="#c8434d"/>
<circle cx="820.85" cy="66.73" r="1.3" fill="#c8434d"/>
<circle cx="828.8" cy="66.73" r="1.3" fill="#c8434d"/>
<circle cx="836.75" cy="66.73" r="1.3" fill="#c8434d"/>
<circle cx="844.7" cy="66.73" r="1.3" fill="#c8434d"/>
<circle cx="852.65" cy="66.73" r="1.3" fill="#c8434d"/>
<circle cx="860.6" cy="66.73" r="1.3" fill="#c8434d"/>
<circle cx="868.55" cy="66.73" r="1.3" fill="#c8434d"/>
<circle cx="876.5" cy="66.73" r="1.3" fill="#c8434d"/>
<circle cx="884.45" cy="66.73" r="1.3" fill="#c8434d"/>
<circle cx="892.4" cy="66.73" r="1.3" fill="#c8434d"/>
<circle cx="900.35" cy="66.73" r="1.3" fill="#c8434d"/>
<circle cx="908.3" cy="66.73" r="1.3" fill="#c8434d"/>
<circle cx="916.25" cy="66.73" r="1.3" fill="#c8434d"/>
<circle cx="924.2" cy="66.73" r="1.3" fill="#c8434d"/>
<circle cx="932.15" cy="66.73" r="1.3" fill="#c8434d"/>
<circle cx="812.9" cy="74.66" r="1.3" fill="#c8434d"/>
<circle cx="820.85" cy="74.66" r="1.3" fill="#c8434d"/>
<circle cx="828.8" cy="74.66" r="1.3" fill="#c8434d"/>
<circle cx="836.75" cy="74.66" r="1.3" fill="#c8434d"/>
<circle cx="844.7" cy="74.66" r="1.3" fill="#c8434d"/>
<circle cx="852.65" cy="74.66" r="1.3" fill="#c8434d"/>
<circle cx="860.6" cy="74.66" r="1.3" fill="#c8434d"/>
<circle cx="868.55" cy="74.66" r="1.3" fill="#c8434d"/>
<circle cx="876.5" cy="74.66" r="1.3" fill="#c8434d"/>
<circle cx="884.45" cy="74.66" r="1.3" fill="#c8434d"/>
<circle cx="892.4" cy="74.66" r="1.3" fill="#c8434d"/>
<circle cx="900.35" cy="74.66" r="1.3" fill="#c8434d"/>
<circle cx="908.3" cy="74.66" r="1.3" fill="#c8434d"/>
<circle cx="916.25" cy="74.66" r="1.3" fill="#c8434d"/>
<circle cx="924.2" cy="74.66" r="1.3" fill="#c8434d"/>
<circle cx="932.15" cy="74.66" r="1.3" fill="#c8434d"/>
<circle cx="812.9" cy="82.59" r="1.3" fill="#c8434d"/>
<circle cx="820.85" cy="82.59" r="1.3" fill="#c8434d"/>
<circle cx="828.8" cy="82.59" r="1.3" fill="#c8434d"/>
<circle cx="836.75" cy="82.59" r="1.3" fill="#c8434d"/>
<circle cx="844.7" cy="82.59" r="1.3" fill="#c8434d"/>
<circle cx="852.65" cy="82.59" r="1.3" fill="#c8434d"/>
<circle cx="860.6" cy="82.59" r="1.3" fill="#c8434d"/>
<circle cx="868.55" cy="82.59" r="1.3" fill="#c8434d"/>
<circle cx="876.5" cy="82.59" r="1.3" fill="#c8434d"/>
<circle cx="884.45" cy="82.59" r="1.3" fill="#c8434d"/>
<circle cx="892.4" cy="82.59" r="1.3" fill="#c8434d"/>
<circle cx="900.35" cy="82.59" r="1.3" fill="#c8434d"/>
<circle cx="908.3" cy="82.59" r="1.3" fill="#c8434d"/>
<circle cx="916.25" cy="82.59" r="1.3" fill="#c8434d"/>
<circle cx="924.2" cy="82.59" r="1.3" fill="#c8434d"/>
<circle cx="932.15" cy="82.59" r="1.3" fill="#c8434d"/>
<circle cx="812.9" cy="90.52" r="1.3" fill="#c8434d"/>
<circle cx="820.85" cy="90.52" r="1.3" fill="#c8434d"/>
<circle cx="828.8" cy="90.52" r="1.3" fill="#c8434d"/>
<circle cx="836.75" cy="90.52" r="1.3" fill="#c8434d"/>
<circle cx="844.7" cy="90.52" r="1.3" fill="#c8434d"/>
<circle cx="852.65" cy="90.52" r="1.3" fill="#c8434d"/>
<circle cx="860.6" cy="90.52" r="1.3" fill="#c8434d"/>
<circle cx="868.55" cy="90.52" r="1.3" fill="#c8434d"/>
<circle cx="876.5" cy="90.52" r="1.3" fill="#c8434d"/>
<circle cx="884.45" cy="90.52" r="1.3" fill="#c8434d"/>
<circle cx="892.4" cy="90.52" r="1.3" fill="#c8434d"/>
<circle cx="900.35" cy="90.52" r="1.3" fill="#c8434d"/>
<circle cx="908.3" cy="90.52" r="1.3" fill="#c8434d"/>
<circle cx="916.25" cy="90.52" r="1.3" fill="#c8434d"/>
<circle cx="924.2" cy="90.52" r="1.3" fill="#c8434d"/>
<circle cx="932.15" cy="90.52" r="1.3" fill="#c8434d"/>
<circle cx="812.9" cy="98.45" r="1.3" fill="#c8434d"/>
<circle cx="820.85" cy="98.45" r="1.3" fill="#c8434d"/>
<circle cx="828.8" cy="98.45" r="1.3" fill="#c8434d"/>
<circle cx="836.75" cy="98.45" r="1.3" fill="#c8434d"/>
<circle cx="844.7" cy="98.45" r="1.3" fill="#c8434d"/>
<circle cx="852.65" cy="98.45" r="1.3" fill="#c8434d"/>
<circle cx="860.6" cy="98.45" r="1.3" fill="#c8434d"/>
<circle cx="868.55" cy="98.45" r="1.3" fill="#c8434d"/>
<circle cx="876.5" cy="98.45" r="1.3" fill="#c8434d"/>
<circle cx="884.45" cy="98.45" r="1.3" fill="#c8434d"/>
<circle cx="892.4" cy="98.45" r="1.3" fill="#c8434d"/>
<circle cx="900.35" cy="98.45" r="1.3" fill="#c8434d"/>
<circle cx="908.3" cy="98.45" r="1.3" fill="#c8434d"/>
<circle cx="916.25" cy="98.45" r="1.3" fill="#c8434d"/>
<circle cx="924.2" cy="98.45" r="1.3" fill="#c8434d"/>
<circle cx="932.15" cy="98.45" r="1.3" fill="#c8434d"/>
<circle cx="812.9" cy="106.38" r="1.3" fill="#c8434d"/>
<circle cx="820.85" cy="106.38" r="1.3" fill="#c8434d"/>
<circle cx="828.8" cy="106.38" r="1.3" fill="#c8434d"/>
<circle cx="836.75" cy="106.38" r="1.3" fill="#c8434d"/>
<circle cx="844.7" cy="106.38" r="1.3" fill="#c8434d"/>
<circle cx="852.65" cy="106.38" r="1.3" fill="#c8434d"/>
<circle cx="860.6" cy="106.38" r="1.3" fill="#c8434d"/>
<circle cx="868.55" cy="106.38" r="1.3" fill="#c8434d"/>
<circle cx="876.5" cy="106.38" r="1.3" fill="#c8434d"/>
<circle cx="884.45" cy="106.38" r="1.3" fill="#c8434d"/>
<circle cx="892.4" cy="106.38" r="1.3" fill="#c8434d"/>
<circle cx="900.35" cy="106.38" r="1.3" fill="#c8434d"/>
<circle cx="908.3" cy="106.38" r="1.3" fill="#c8434d"/>
<circle cx="916.25" cy="106.38" r="1.3" fill="#c8434d"/>
<circle cx="924.2" cy="106.38" r="1.3" fill="#c8434d"/>
<circle cx="932.15" cy="106.38" r="1.3" fill="#c8434d"/>
<circle cx="812.9" cy="114.31" r="1.3" fill="#c8434d"/>
<circle cx="820.85" cy="114.31" r="1.3" fill="#c8434d"/>
<circle cx="828.8" cy="114.31" r="1.3" fill="#c8434d"/>
<circle cx="836.75" cy="114.31" r="1.3" fill="#c8434d"/>
<circle cx="844.7" cy="114.31" r="1.3" fill="#c8434d"/>
<circle cx="852.65" cy="114.31" r="1.3" fill="#c8434d"/>
<circle cx="860.6" cy="114.31" r="1.3" fill="#c8434d"/>
<circle cx="868.55" cy="114.31" r="1.3" fill="#c8434d"/>
<circle cx="876.5" cy="114.31" r="1.3" fill="#c8434d"/>
<circle cx="884.45" cy="114.31" r="1.3" fill="#c8434d"/>
<circle cx="892.4" cy="114.31" r="1.3" fill="#c8434d"/>
<circle cx="900.35" cy="114.31" r="1.3" fill="#c8434d"/>
<circle cx="908.3" cy="114.31" r="1.3" fill="#c8434d"/>
<circle cx="916.25" cy="114.31" r="1.3" fill="#c8434d"/>
<circle cx="924.2" cy="114.31" r="1.3" fill="#c8434d"/>
<circle cx="932.15" cy="114.31" r="1.3" fill="#c8434d"/>
<circle cx="812.9" cy="122.24" r="1.3" fill="#c8434d"/>
<circle cx="820.85" cy="122.24" r="1.3" fill="#c8434d"/>
<circle cx="828.8" cy="122.24" r="1.3" fill="#c8434d"/>
<circle cx="836.75" cy="122.24" r="1.3" fill="#c8434d"/>
<circle cx="844.7" cy="122.24" r="1.3" fill="#c8434d"/>
<circle cx="852.65" cy="122.24" r="1.3" fill="#c8434d"/>
<circle cx="860.6" cy="122.24" r="1.3" fill="#c8434d"/>
<circle cx="868.55" cy="122.24" r="1.3" fill="#c8434d"/>
<circle cx="876.5" cy="122.24" r="1.3" fill="#c8434d"/>
<circle cx="884.45" cy="122.24" r="1.3" fill="#c8434d"/>
<circle cx="892.4" cy="122.24" r="1.3" fill="#c8434d"/>
<circle cx="900.35" cy="122.24" r="1.3" fill="#c8434d"/>
<circle cx="908.3" cy="122.24" r="1.3" fill="#c8434d"/>
<circle cx="916.25" cy="122.24" r="1.3" fill="#c8434d"/>
<circle cx="924.2" cy="122.24" r="1.3" fill="#c8434d"/>
<circle cx="932.15" cy="122.24" r="1.3" fill="#c8434d"/>
<circle cx="812.9" cy="130.17" r="1.3" fill="#c8434d"/>
<circle cx="820.85" cy="130.17" r="1.3" fill="#c8434d"/>
<circle cx="828.8" cy="130.17" r="1.3" fill="#c8434d"/>
<circle cx="836.75" cy="130.17" r="1.3" fill="#c8434d"/>
<circle cx="844.7" cy="130.17" r="1.3" fill="#c8434d"/>
<circle cx="852.65" cy="130.17" r="1.3" fill="#c8434d"/>
<circle cx="860.6" cy="130.17" r="1.3" fill="#c8434d"/>
<circle cx="868.55" cy="130.17" r="1.3" fill="#c8434d"/>
<circle cx="876.5" cy="130.17" r="1.3" fill="#c8434d"/>
<circle cx="884.45" cy="130.17" r="1.3" fill="#c8434d"/>
<circle cx="892.4" cy="130.17" r="1.3" fill="#c8434d"/>
<circle cx="900.35" cy="130.17" r="1.3" fill="#c8434d"/>
<circle cx="908.3" cy="130.17" r="1.3" fill="#c8434d"/>
<circle cx="916.25" cy="130.17" r="1.3" fill="#c8434d"/>
<circle cx="924.2" cy="130.17" r="1.3" fill="#c8434d"/>
<circle cx="932.15" cy="130.17" r="1.3" fill="#c8434d"/>
<circle cx="812.9" cy="138.1" r="1.3" fill="#c8434d"/>
<circle cx="820.85" cy="138.1" r="1.3" fill="#c8434d"/>
<circle cx="828.8" cy="138.1" r="1.3" fill="#c8434d"/>
<circle cx="836.75" cy="138.1" r="1.3" fill="#c8434d"/>
<circle cx="844.7" cy="138.1" r="1.3" fill="#c8434d"/>
<circle cx="852.65" cy="138.1" r="1.3" fill="#c8434d"/>
<circle cx="860.6" cy="138.1" r="1.3" fill="#c8434d"/>
<circle cx="868.55" cy="138.1" r="1.3" fill="#c8434d"/>
<circle cx="876.5" cy="138.1" r="1.3" fill="#c8434d"/>
<circle cx="884.45" cy="138.1" r="1.3" fill="#c8434d"/>
<circle cx="892.4" cy="138.1" r="1.3" fill="#c8434d"/>
<circle cx="900.35" cy="138.1" r="1.3" fill="#c8434d"/>
<circle cx="908.3" cy="138.1" r="1.3" fill="#c8434d"/>
<circle cx="916.25" cy="138.1" r="1.3" fill="#c8434d"/>
<circle cx="924.2" cy="138.1" r="1.3" fill="#c8434d"/>
<circle cx="932.15" cy="138.1" r="1.3" fill="#c8434d"/>
<rect x="790" y="182" width="166.1" height="118" fill="#fff" stroke="none"/>
<rect x="796.87" y="189.37" width="5.45" height="5.45"/>
<rect x="941.57" y="189.37" width="5.45" height="5.45"/>
<rect x="806.97" y="189.37" width="5.45" height="5.45"/>
<rect x="931.47" y="189.37" width="5.45" height="5.45"/>
<rect x="817.07" y="189.37" width="5.45" height="5.45"/>
<rect x="921.37" y="189.37" width="5.45" height="5.45"/>
<rect x="827.17" y="189.37" width="5.45" height="5.45"/>
<rect x="911.27" y="189.37" width="5.45" height="5.45"/>
<rect x="837.27" y="189.37" width="5.45" height="5.45"/>
<rect x="901.17" y="189.37" width="5.45" height="5.45"/>
<rect x="847.37" y="189.37" width="5.45" height="5.45"/>
<rect x="891.07" y="189.37" width="5.45" height="5.45"/>
<rect x="796.87" y="288.27" width="5.45" height="5.45"/>
<rect x="941.57" y="288.27" width="5.45" height="5.45"/>
<rect x="806.97" y="288.27" width="5.45" height="5.45"/>
<rect x="931.47" y="288.27" width="5.45" height="5.45"/>
<rect x="817.07" y="288.27" width="5.45" height="5.45"/>
<rect x="921.37" y="288.27" width="5.45" height="5.45"/>
<rect x="827.17" y="288.27" width="5.45" height="5.45"/>
<rect x="911.27" y="288.27" width="5.45" height="5.45"/>
<rect x="837.27" y="288.27" width="5.45" height="5.45"/>
<rect x="901.17" y="288.27" width="5.45" height="5.45"/>
<rect x="847.37" y="288.27" width="5.45" height="5.45"/>
<rect x="891.07" y="288.27" width="5.45" height="5.45"/>
<rect x="796.87" y="198.27" width="5.45" height="5.45"/>
<rect x="796.87" y="208.41" width="5.45" height="5.45"/>
<rect x="796.87" y="218.54" width="5.45" height="5.45"/>
<rect x="796.87" y="228.68" width="5.45" height="5.45"/>
<rect x="796.87" y="238.82" width="5.45" height="5.45"/>
<rect x="796.87" y="248.96" width="5.45" height="5.45"/>
<rect x="796.87" y="259.1" width="5.45" height="5.45"/>
<rect x="796.87" y="269.23" width="5.45" height="5.45"/>
<rect x="796.87" y="279.37" width="5.45" height="5.45"/>
<rect x="941.57" y="198.27" width="5.45" height="5.45"/>
<rect x="941.57" y="208.41" width="5.45" height="5.45"/>
<rect x="941.57" y="218.54" width="5.45" height="5.45"/>
<rect x="941.57" y="228.68" width="5.45" height="5.45"/>
<rect x="941.57" y="238.82" width="5.45" height="5.45"/>
<rect x="941.57" y="248.96" width="5.45" height="5.45"/>
<rect x="941.57" y="259.1" width="5.45" height="5.45"/>
<rect x="941.57" y="269.23" width="5.45" height="5.45"/>
<rect x="941.57" y="279.37" width="5.45" height="5.45"/>
<text x="872.55" y="195.1" class="lb" text-anchor="middle" textLength="22.05" lengthAdjust="spacingAndGlyphs">30 UM</text>
<text x="872.55" y="294" class="lb" text-anchor="middle" textLength="22.05" lengthAdjust="spacingAndGlyphs">30 UM</text>
<circle cx="812.2" cy="203.2" stroke="#8e2831" stroke-width="0.7" r="1.85"/>
<circle cx="822.42" cy="203.2" stroke="#8e2831" stroke-width="0.7" r="1.85"/>
<circle cx="832.64" cy="203.2" stroke="#8e2831" stroke-width="0.7" r="1.85"/>
<circle cx="842.86" cy="203.2" stroke="#8e2831" stroke-width="0.7" r="1.85"/>
<circle cx="853.08" cy="203.2" stroke="#8e2831" stroke-width="0.7" r="1.85"/>
<circle cx="863.3" cy="203.2" stroke="#8e2831" stroke-width="0.7" r="1.85"/>
<circle cx="873.52" cy="203.2" stroke="#8e2831" stroke-width="0.7" r="1.85"/>
<circle cx="883.74" cy="203.2" stroke="#8e2831" stroke-width="0.7" r="1.85"/>
<circle cx="893.96" cy="203.2" stroke="#8e2831" stroke-width="0.7" r="1.85"/>
<circle cx="904.18" cy="203.2" stroke="#8e2831" stroke-width="0.7" r="1.85"/>
<circle cx="914.4" cy="203.2" stroke="#8e2831" stroke-width="0.7" r="1.85"/>
<circle cx="924.62" cy="203.2" stroke="#8e2831" stroke-width="0.7" r="1.85"/>
<circle cx="934.84" cy="203.2" stroke="#8e2831" stroke-width="0.7" r="1.85"/>
<circle cx="812.2" cy="214.03" stroke="#8e2831" stroke-width="0.7" r="1.85"/>
<circle cx="822.42" cy="214.03" stroke="#8e2831" stroke-width="0.7" r="1.85"/>
<circle cx="832.64" cy="214.03" stroke="#8e2831" stroke-width="0.7" r="1.85"/>
<circle cx="842.86" cy="214.03" stroke="#8e2831" stroke-width="0.7" r="1.85"/>
<circle cx="853.08" cy="214.03" stroke="#8e2831" stroke-width="0.7" r="1.85"/>
<circle cx="863.3" cy="214.03" stroke="#8e2831" stroke-width="0.7" r="1.85"/>
<circle cx="873.52" cy="214.03" stroke="#8e2831" stroke-width="0.7" r="1.85"/>
<circle cx="883.74" cy="214.03" stroke="#8e2831" stroke-width="0.7" r="1.85"/>
<circle cx="893.96" cy="214.03" stroke="#8e2831" stroke-width="0.7" r="1.85"/>
<circle cx="904.18" cy="214.03" stroke="#8e2831" stroke-width="0.7" r="1.85"/>
<circle cx="914.4" cy="214.03" stroke="#8e2831" stroke-width="0.7" r="1.85"/>
<circle cx="924.62" cy="214.03" stroke="#8e2831" stroke-width="0.7" r="1.85"/>
<circle cx="934.84" cy="214.03" stroke="#8e2831" stroke-width="0.7" r="1.85"/>
<circle cx="812.2" cy="224.86" stroke="#8e2831" stroke-width="0.7" r="1.85"/>
<circle cx="822.42" cy="224.86" stroke="#8e2831" stroke-width="0.7" r="1.85"/>
<circle cx="832.64" cy="224.86" stroke="#8e2831" stroke-width="0.7" r="1.85"/>
<circle cx="842.86" cy="224.86" stroke="#8e2831" stroke-width="0.7" r="1.85"/>
<circle cx="853.08" cy="224.86" stroke="#8e2831" stroke-width="0.7" r="1.85"/>
<circle cx="863.3" cy="224.86" stroke="#8e2831" stroke-width="0.7" r="1.85"/>
<circle cx="873.52" cy="224.86" stroke="#8e2831" stroke-width="0.7" r="1.85"/>
<circle cx="883.74" cy="224.86" stroke="#8e2831" stroke-width="0.7" r="1.85"/>
<circle cx="893.96" cy="224.86" stroke="#8e2831" stroke-width="0.7" r="1.85"/>
<circle cx="904.18" cy="224.86" stroke="#8e2831" stroke-width="0.7" r="1.85"/>
<circle cx="914.4" cy="224.86" stroke="#8e2831" stroke-width="0.7" r="1.85"/>
<circle cx="924.62" cy="224.86" stroke="#8e2831" stroke-width="0.7" r="1.85"/>
<circle cx="934.84" cy="224.86" stroke="#8e2831" stroke-width="0.7" r="1.85"/>
<circle cx="812.2" cy="235.69" stroke="#8e2831" stroke-width="0.7" r="1.85"/>
<circle cx="822.42" cy="235.69" stroke="#8e2831" stroke-width="0.7" r="1.85"/>
<circle cx="832.64" cy="235.69" stroke="#8e2831" stroke-width="0.7" r="1.85"/>
<circle cx="842.86" cy="235.69" stroke="#8e2831" stroke-width="0.7" r="1.85"/>
<circle cx="853.08" cy="235.69" stroke="#8e2831" stroke-width="0.7" r="1.85"/>
<circle cx="863.3" cy="235.69" stroke="#8e2831" stroke-width="0.7" r="1.85"/>
<circle cx="873.52" cy="235.69" stroke="#8e2831" stroke-width="0.7" r="1.85"/>
<circle cx="883.74" cy="235.69" stroke="#8e2831" stroke-width="0.7" r="1.85"/>
<circle cx="893.96" cy="235.69" stroke="#8e2831" stroke-width="0.7" r="1.85"/>
<circle cx="904.18" cy="235.69" stroke="#8e2831" stroke-width="0.7" r="1.85"/>
<circle cx="914.4" cy="235.69" stroke="#8e2831" stroke-width="0.7" r="1.85"/>
<circle cx="924.62" cy="235.69" stroke="#8e2831" stroke-width="0.7" r="1.85"/>
<circle cx="934.84" cy="235.69" stroke="#8e2831" stroke-width="0.7" r="1.85"/>
<circle cx="812.2" cy="246.52" stroke="#8e2831" stroke-width="0.7" r="1.85"/>
<circle cx="822.42" cy="246.52" stroke="#8e2831" stroke-width="0.7" r="1.85"/>
<circle cx="832.64" cy="246.52" stroke="#8e2831" stroke-width="0.7" r="1.85"/>
<circle cx="842.86" cy="246.52" stroke="#8e2831" stroke-width="0.7" r="1.85"/>
<circle cx="853.08" cy="246.52" stroke="#8e2831" stroke-width="0.7" r="1.85"/>
<circle cx="863.3" cy="246.52" stroke="#8e2831" stroke-width="0.7" r="1.85"/>
<circle cx="873.52" cy="246.52" stroke="#8e2831" stroke-width="0.7" r="1.85"/>
<circle cx="883.74" cy="246.52" stroke="#8e2831" stroke-width="0.7" r="1.85"/>
<circle cx="893.96" cy="246.52" stroke="#8e2831" stroke-width="0.7" r="1.85"/>
<circle cx="904.18" cy="246.52" stroke="#8e2831" stroke-width="0.7" r="1.85"/>
<circle cx="914.4" cy="246.52" stroke="#8e2831" stroke-width="0.7" r="1.85"/>
<circle cx="924.62" cy="246.52" stroke="#8e2831" stroke-width="0.7" r="1.85"/>
<circle cx="934.84" cy="246.52" stroke="#8e2831" stroke-width="0.7" r="1.85"/>
<circle cx="812.2" cy="257.35" stroke="#8e2831" stroke-width="0.7" r="1.85"/>
<circle cx="822.42" cy="257.35" stroke="#8e2831" stroke-width="0.7" r="1.85"/>
<circle cx="832.64" cy="257.35" stroke="#8e2831" stroke-width="0.7" r="1.85"/>
<circle cx="842.86" cy="257.35" stroke="#8e2831" stroke-width="0.7" r="1.85"/>
<circle cx="853.08" cy="257.35" stroke="#8e2831" stroke-width="0.7" r="1.85"/>
<circle cx="863.3" cy="257.35" stroke="#8e2831" stroke-width="0.7" r="1.85"/>
<circle cx="873.52" cy="257.35" stroke="#8e2831" stroke-width="0.7" r="1.85"/>
<circle cx="883.74" cy="257.35" stroke="#8e2831" stroke-width="0.7" r="1.85"/>
<circle cx="893.96" cy="257.35" stroke="#8e2831" stroke-width="0.7" r="1.85"/>
<circle cx="904.18" cy="257.35" stroke="#8e2831" stroke-width="0.7" r="1.85"/>
<circle cx="914.4" cy="257.35" stroke="#8e2831" stroke-width="0.7" r="1.85"/>
<circle cx="924.62" cy="257.35" stroke="#8e2831" stroke-width="0.7" r="1.85"/>
<circle cx="934.84" cy="257.35" stroke="#8e2831" stroke-width="0.7" r="1.85"/>
<circle cx="812.2" cy="268.18" stroke="#8e2831" stroke-width="0.7" r="1.85"/>
<circle cx="822.42" cy="268.18" stroke="#8e2831" stroke-width="0.7" r="1.85"/>
<circle cx="832.64" cy="268.18" stroke="#8e2831" stroke-width="0.7" r="1.85"/>
<circle cx="842.86" cy="268.18" stroke="#8e2831" stroke-width="0.7" r="1.85"/>
<circle cx="853.08" cy="268.18" stroke="#8e2831" stroke-width="0.7" r="1.85"/>
<circle cx="863.3" cy="268.18" stroke="#8e2831" stroke-width="0.7" r="1.85"/>
<circle cx="873.52" cy="268.18" stroke="#8e2831" stroke-width="0.7" r="1.85"/>
<circle cx="883.74" cy="268.18" stroke="#8e2831" stroke-width="0.7" r="1.85"/>
<circle cx="893.96" cy="268.18" stroke="#8e2831" stroke-width="0.7" r="1.85"/>
<circle cx="904.18" cy="268.18" stroke="#8e2831" stroke-width="0.7" r="1.85"/>
<circle cx="914.4" cy="268.18" stroke="#8e2831" stroke-width="0.7" r="1.85"/>
<circle cx="924.62" cy="268.18" stroke="#8e2831" stroke-width="0.7" r="1.85"/>
<circle cx="934.84" cy="268.18" stroke="#8e2831" stroke-width="0.7" r="1.85"/>
<circle cx="812.2" cy="279.01" stroke="#8e2831" stroke-width="0.7" r="1.85"/>
<circle cx="822.42" cy="279.01" stroke="#8e2831" stroke-width="0.7" r="1.85"/>
<circle cx="832.64" cy="279.01" stroke="#8e2831" stroke-width="0.7" r="1.85"/>
<circle cx="842.86" cy="279.01" stroke="#8e2831" stroke-width="0.7" r="1.85"/>
<circle cx="853.08" cy="279.01" stroke="#8e2831" stroke-width="0.7" r="1.85"/>
<circle cx="863.3" cy="279.01" stroke="#8e2831" stroke-width="0.7" r="1.85"/>
<circle cx="873.52" cy="279.01" stroke="#8e2831" stroke-width="0.7" r="1.85"/>
<circle cx="883.74" cy="279.01" stroke="#8e2831" stroke-width="0.7" r="1.85"/>
<circle cx="893.96" cy="279.01" stroke="#8e2831" stroke-width="0.7" r="1.85"/>
<circle cx="904.18" cy="279.01" stroke="#8e2831" stroke-width="0.7" r="1.85"/>
<circle cx="914.4" cy="279.01" stroke="#8e2831" stroke-width="0.7" r="1.85"/>
<circle cx="924.62" cy="279.01" stroke="#8e2831" stroke-width="0.7" r="1.85"/>
<circle cx="934.84" cy="279.01" stroke="#8e2831" stroke-width="0.7" r="1.85"/>
<rect x="788" y="396" width="171.1" height="124" fill="#fff" stroke="none"/>
<rect x="798.57" y="406.37" width="5.45" height="5.45"/>
<rect x="943.57" y="406.37" width="5.45" height="5.45"/>
<rect x="808.67" y="406.37" width="5.45" height="5.45"/>
<rect x="933.47" y="406.37" width="5.45" height="5.45"/>
<rect x="818.77" y="406.37" width="5.45" height="5.45"/>
<rect x="923.37" y="406.37" width="5.45" height="5.45"/>
<rect x="828.87" y="406.37" width="5.45" height="5.45"/>
<rect x="913.27" y="406.37" width="5.45" height="5.45"/>
<rect x="838.97" y="406.37" width="5.45" height="5.45"/>
<rect x="903.17" y="406.37" width="5.45" height="5.45"/>
<rect x="849.07" y="406.37" width="5.45" height="5.45"/>
<rect x="893.07" y="406.37" width="5.45" height="5.45"/>
<rect x="798.57" y="505.37" width="5.45" height="5.45"/>
<rect x="943.57" y="505.37" width="5.45" height="5.45"/>
<rect x="808.67" y="505.37" width="5.45" height="5.45"/>
<rect x="933.47" y="505.37" width="5.45" height="5.45"/>
<rect x="818.77" y="505.37" width="5.45" height="5.45"/>
<rect x="923.37" y="505.37" width="5.45" height="5.45"/>
<rect x="828.87" y="505.37" width="5.45" height="5.45"/>
<rect x="913.27" y="505.37" width="5.45" height="5.45"/>
<rect x="838.97" y="505.37" width="5.45" height="5.45"/>
<rect x="903.17" y="505.37" width="5.45" height="5.45"/>
<rect x="849.07" y="505.37" width="5.45" height="5.45"/>
<rect x="893.07" y="505.37" width="5.45" height="5.45"/>
<rect x="798.57" y="415.27" width="5.45" height="5.45"/>
<rect x="798.57" y="425.42" width="5.45" height="5.45"/>
<rect x="798.57" y="435.57" width="5.45" height="5.45"/>
<rect x="798.57" y="445.72" width="5.45" height="5.45"/>
<rect x="798.57" y="455.87" width="5.45" height="5.45"/>
<rect x="798.57" y="466.02" width="5.45" height="5.45"/>
<rect x="798.57" y="476.17" width="5.45" height="5.45"/>
<rect x="798.57" y="486.32" width="5.45" height="5.45"/>
<rect x="798.57" y="496.47" width="5.45" height="5.45"/>
<rect x="943.57" y="415.27" width="5.45" height="5.45"/>
<rect x="943.57" y="425.42" width="5.45" height="5.45"/>
<rect x="943.57" y="435.57" width="5.45" height="5.45"/>
<rect x="943.57" y="445.72" width="5.45" height="5.45"/>
<rect x="943.57" y="455.87" width="5.45" height="5.45"/>
<rect x="943.57" y="466.02" width="5.45" height="5.45"/>
<rect x="943.57" y="476.17" width="5.45" height="5.45"/>
<rect x="943.57" y="486.32" width="5.45" height="5.45"/>
<rect x="943.57" y="496.47" width="5.45" height="5.45"/>
<text x="874.4" y="412.1" class="lb" text-anchor="middle" textLength="22.05" lengthAdjust="spacingAndGlyphs">50 UM</text>
<text x="874.4" y="511.1" class="lb" text-anchor="middle" textLength="22.05" lengthAdjust="spacingAndGlyphs">50 UM</text>
<circle cx="818.5" cy="425.7" stroke="#8e2831" stroke-width="0.7" r="3.1"/>
<circle cx="834.47" cy="425.7" stroke="#8e2831" stroke-width="0.7" r="3.1"/>
<circle cx="850.44" cy="425.7" stroke="#8e2831" stroke-width="0.7" r="3.1"/>
<circle cx="866.41" cy="425.7" stroke="#8e2831" stroke-width="0.7" r="3.1"/>
<circle cx="882.38" cy="425.7" stroke="#8e2831" stroke-width="0.7" r="3.1"/>
<circle cx="898.35" cy="425.7" stroke="#8e2831" stroke-width="0.7" r="3.1"/>
<circle cx="914.32" cy="425.7" stroke="#8e2831" stroke-width="0.7" r="3.1"/>
<circle cx="930.29" cy="425.7" stroke="#8e2831" stroke-width="0.7" r="3.1"/>
<circle cx="818.5" cy="441.63" stroke="#8e2831" stroke-width="0.7" r="3.1"/>
<circle cx="834.47" cy="441.63" stroke="#8e2831" stroke-width="0.7" r="3.1"/>
<circle cx="850.44" cy="441.63" stroke="#8e2831" stroke-width="0.7" r="3.1"/>
<circle cx="866.41" cy="441.63" stroke="#8e2831" stroke-width="0.7" r="3.1"/>
<circle cx="882.38" cy="441.63" stroke="#8e2831" stroke-width="0.7" r="3.1"/>
<circle cx="898.35" cy="441.63" stroke="#8e2831" stroke-width="0.7" r="3.1"/>
<circle cx="914.32" cy="441.63" stroke="#8e2831" stroke-width="0.7" r="3.1"/>
<circle cx="930.29" cy="441.63" stroke="#8e2831" stroke-width="0.7" r="3.1"/>
<circle cx="818.5" cy="457.56" stroke="#8e2831" stroke-width="0.7" r="3.1"/>
<circle cx="834.47" cy="457.56" stroke="#8e2831" stroke-width="0.7" r="3.1"/>
<circle cx="850.44" cy="457.56" stroke="#8e2831" stroke-width="0.7" r="3.1"/>
<circle cx="866.41" cy="457.56" stroke="#8e2831" stroke-width="0.7" r="3.1"/>
<circle cx="882.38" cy="457.56" stroke="#8e2831" stroke-width="0.7" r="3.1"/>
<circle cx="898.35" cy="457.56" stroke="#8e2831" stroke-width="0.7" r="3.1"/>
<circle cx="914.32" cy="457.56" stroke="#8e2831" stroke-width="0.7" r="3.1"/>
<circle cx="930.29" cy="457.56" stroke="#8e2831" stroke-width="0.7" r="3.1"/>
<circle cx="818.5" cy="473.49" stroke="#8e2831" stroke-width="0.7" r="3.1"/>
<circle cx="834.47" cy="473.49" stroke="#8e2831" stroke-width="0.7" r="3.1"/>
<circle cx="850.44" cy="473.49" stroke="#8e2831" stroke-width="0.7" r="3.1"/>
<circle cx="866.41" cy="473.49" stroke="#8e2831" stroke-width="0.7" r="3.1"/>
<circle cx="882.38" cy="473.49" stroke="#8e2831" stroke-width="0.7" r="3.1"/>
<circle cx="898.35" cy="473.49" stroke="#8e2831" stroke-width="0.7" r="3.1"/>
<circle cx="914.32" cy="473.49" stroke="#8e2831" stroke-width="0.7" r="3.1"/>
<circle cx="930.29" cy="473.49" stroke="#8e2831" stroke-width="0.7" r="3.1"/>
<circle cx="818.5" cy="489.42" stroke="#8e2831" stroke-width="0.7" r="3.1"/>
<circle cx="834.47" cy="489.42" stroke="#8e2831" stroke-width="0.7" r="3.1"/>
<circle cx="850.44" cy="489.42" stroke="#8e2831" stroke-width="0.7" r="3.1"/>
<circle cx="866.41" cy="489.42" stroke="#8e2831" stroke-width="0.7" r="3.1"/>
<circle cx="882.38" cy="489.42" stroke="#8e2831" stroke-width="0.7" r="3.1"/>
<circle cx="898.35" cy="489.42" stroke="#8e2831" stroke-width="0.7" r="3.1"/>
<circle cx="914.32" cy="489.42" stroke="#8e2831" stroke-width="0.7" r="3.1"/>
<circle cx="930.29" cy="489.42" stroke="#8e2831" stroke-width="0.7" r="3.1"/>
<rect x="790.8" y="539.9" width="161.1" height="116.3" fill="#fff" stroke="none"/>
<rect x="797.37" y="546.57" width="5.45" height="5.45"/>
<rect x="942.37" y="546.57" width="5.45" height="5.45"/>
<rect x="807.47" y="546.57" width="5.45" height="5.45"/>
<rect x="932.27" y="546.57" width="5.45" height="5.45"/>
<rect x="817.57" y="546.57" width="5.45" height="5.45"/>
<rect x="922.17" y="546.57" width="5.45" height="5.45"/>
<rect x="827.67" y="546.57" width="5.45" height="5.45"/>
<rect x="912.07" y="546.57" width="5.45" height="5.45"/>
<rect x="837.77" y="546.57" width="5.45" height="5.45"/>
<rect x="901.97" y="546.57" width="5.45" height="5.45"/>
<rect x="847.87" y="546.57" width="5.45" height="5.45"/>
<rect x="891.87" y="546.57" width="5.45" height="5.45"/>
<rect x="797.37" y="646.07" width="5.45" height="5.45"/>
<rect x="942.37" y="646.07" width="5.45" height="5.45"/>
<rect x="807.47" y="646.07" width="5.45" height="5.45"/>
<rect x="932.27" y="646.07" width="5.45" height="5.45"/>
<rect x="817.57" y="646.07" width="5.45" height="5.45"/>
<rect x="922.17" y="646.07" width="5.45" height="5.45"/>
<rect x="827.67" y="646.07" width="5.45" height="5.45"/>
<rect x="912.07" y="646.07" width="5.45" height="5.45"/>
<rect x="837.77" y="646.07" width="5.45" height="5.45"/>
<rect x="901.97" y="646.07" width="5.45" height="5.45"/>
<rect x="847.87" y="646.07" width="5.45" height="5.45"/>
<rect x="891.87" y="646.07" width="5.45" height="5.45"/>
<rect x="797.37" y="555.47" width="5.45" height="5.45"/>
<rect x="797.37" y="565.68" width="5.45" height="5.45"/>
<rect x="797.37" y="575.89" width="5.45" height="5.45"/>
<rect x="797.37" y="586.11" width="5.45" height="5.45"/>
<rect x="797.37" y="596.32" width="5.45" height="5.45"/>
<rect x="797.37" y="606.53" width="5.45" height="5.45"/>
<rect x="797.37" y="616.74" width="5.45" height="5.45"/>
<rect x="797.37" y="626.96" width="5.45" height="5.45"/>
<rect x="797.37" y="637.17" width="5.45" height="5.45"/>
<rect x="942.37" y="555.47" width="5.45" height="5.45"/>
<rect x="942.37" y="565.68" width="5.45" height="5.45"/>
<rect x="942.37" y="575.89" width="5.45" height="5.45"/>
<rect x="942.37" y="586.11" width="5.45" height="5.45"/>
<rect x="942.37" y="596.32" width="5.45" height="5.45"/>
<rect x="942.37" y="606.53" width="5.45" height="5.45"/>
<rect x="942.37" y="616.74" width="5.45" height="5.45"/>
<rect x="942.37" y="626.96" width="5.45" height="5.45"/>
<rect x="942.37" y="637.17" width="5.45" height="5.45"/>
<text x="873.2" y="552.3" class="lb" text-anchor="middle" textLength="26.4" lengthAdjust="spacingAndGlyphs">100 UM</text>
<text x="873.2" y="651.8" class="lb" text-anchor="middle" textLength="26.4" lengthAdjust="spacingAndGlyphs">100 UM</text>
<circle cx="822.2" cy="573.7" r="5.8"/>
<circle cx="847.35" cy="573.7" r="5.8"/>
<circle cx="872.5" cy="573.7" r="5.8"/>
<circle cx="897.65" cy="573.7" r="5.8"/>
<circle cx="922.8" cy="573.7" r="5.8"/>
<circle cx="822.2" cy="598.75" r="5.8"/>
<circle cx="847.35" cy="598.75" r="5.8"/>
<circle cx="872.5" cy="598.75" r="5.8"/>
<circle cx="897.65" cy="598.75" r="5.8"/>
<circle cx="922.8" cy="598.75" r="5.8"/>
<circle cx="822.2" cy="623.8" r="5.8"/>
<circle cx="847.35" cy="623.8" r="5.8"/>
<circle cx="872.5" cy="623.8" r="5.8"/>
<circle cx="897.65" cy="623.8" r="5.8"/>
<circle cx="922.8" cy="623.8" r="5.8"/>
</g>
<rect x="404" y="257.7" width="64.7" height="66.1" fill="none" stroke="#789a26" stroke-width="1.6"/>
<rect x="406.2" y="295.5" width="8.8" height="5.5" fill="#e0e0e0" stroke="#5a5a5a" stroke-opacity="0.55" stroke-width="0.6"/>
<rect x="406.2" y="302.56" width="8.8" height="5.5" fill="#e0e0e0" stroke="#5a5a5a" stroke-opacity="0.55" stroke-width="0.6"/>
<rect x="406.2" y="309.62" width="8.8" height="5.5" fill="#e0e0e0" stroke="#5a5a5a" stroke-opacity="0.55" stroke-width="0.6"/>
<rect x="406.2" y="316.68" width="8.8" height="5.5" fill="#e0e0e0" stroke="#5a5a5a" stroke-opacity="0.55" stroke-width="0.6"/>
<rect x="416.6" y="281.38" width="8.8" height="5.5" fill="#e0e0e0" stroke="#5a5a5a" stroke-opacity="0.55" stroke-width="0.6"/>
<rect x="416.6" y="288.44" width="8.8" height="5.5" fill="#e0e0e0" stroke="#5a5a5a" stroke-opacity="0.55" stroke-width="0.6"/>
<rect x="416.6" y="295.5" width="8.8" height="5.5" fill="#e0e0e0" stroke="#5a5a5a" stroke-opacity="0.55" stroke-width="0.6"/>
<rect x="416.6" y="302.56" width="8.8" height="5.5" fill="#e0e0e0" stroke="#5a5a5a" stroke-opacity="0.55" stroke-width="0.6"/>
<rect x="416.6" y="309.62" width="8.8" height="5.5" fill="#e0e0e0" stroke="#5a5a5a" stroke-opacity="0.55" stroke-width="0.6"/>
<rect x="416.6" y="316.68" width="8.8" height="5.5" fill="#e0e0e0" stroke="#5a5a5a" stroke-opacity="0.55" stroke-width="0.6"/>
<rect x="427" y="274.32" width="8.8" height="5.5" fill="#e0e0e0" stroke="#5a5a5a" stroke-opacity="0.55" stroke-width="0.6"/>
<rect x="427" y="281.38" width="8.8" height="5.5" fill="#e0e0e0" stroke="#5a5a5a" stroke-opacity="0.55" stroke-width="0.6"/>
<rect x="427" y="288.44" width="8.8" height="5.5" fill="#e0e0e0" stroke="#5a5a5a" stroke-opacity="0.55" stroke-width="0.6"/>
<rect x="427" y="295.5" width="8.8" height="5.5" fill="#e0e0e0" stroke="#5a5a5a" stroke-opacity="0.55" stroke-width="0.6"/>
<rect x="427" y="302.56" width="8.8" height="5.5" fill="#e0e0e0" stroke="#5a5a5a" stroke-opacity="0.55" stroke-width="0.6"/>
<rect x="427" y="309.62" width="8.8" height="5.5" fill="#e0e0e0" stroke="#5a5a5a" stroke-opacity="0.55" stroke-width="0.6"/>
<rect x="427" y="316.68" width="8.8" height="5.5" fill="#e0e0e0" stroke="#5a5a5a" stroke-opacity="0.55" stroke-width="0.6"/>
<rect x="437.4" y="267.26" width="8.8" height="5.5" fill="#e0e0e0" stroke="#5a5a5a" stroke-opacity="0.55" stroke-width="0.6"/>
<rect x="437.4" y="274.32" width="8.8" height="5.5" fill="#e0e0e0" stroke="#5a5a5a" stroke-opacity="0.55" stroke-width="0.6"/>
<rect x="437.4" y="281.38" width="8.8" height="5.5" fill="#e0e0e0" stroke="#5a5a5a" stroke-opacity="0.55" stroke-width="0.6"/>
<rect x="437.4" y="288.44" width="8.8" height="5.5" fill="#e0e0e0" stroke="#5a5a5a" stroke-opacity="0.55" stroke-width="0.6"/>
<rect x="437.4" y="295.5" width="8.8" height="5.5" fill="#e0e0e0" stroke="#5a5a5a" stroke-opacity="0.55" stroke-width="0.6"/>
<rect x="437.4" y="302.56" width="8.8" height="5.5" fill="#e0e0e0" stroke="#5a5a5a" stroke-opacity="0.55" stroke-width="0.6"/>
<rect x="437.4" y="309.62" width="8.8" height="5.5" fill="#e0e0e0" stroke="#5a5a5a" stroke-opacity="0.55" stroke-width="0.6"/>
<rect x="437.4" y="316.68" width="8.8" height="5.5" fill="#e0e0e0" stroke="#5a5a5a" stroke-opacity="0.55" stroke-width="0.6"/>
<rect x="447.8" y="260.2" width="8.8" height="5.5" fill="#e0e0e0" stroke="#5a5a5a" stroke-opacity="0.55" stroke-width="0.6"/>
<rect x="447.8" y="267.26" width="8.8" height="5.5" fill="#e0e0e0" stroke="#5a5a5a" stroke-opacity="0.55" stroke-width="0.6"/>
<rect x="447.8" y="274.32" width="8.8" height="5.5" fill="#e0e0e0" stroke="#5a5a5a" stroke-opacity="0.55" stroke-width="0.6"/>
<rect x="447.8" y="281.38" width="8.8" height="5.5" fill="#e0e0e0" stroke="#5a5a5a" stroke-opacity="0.55" stroke-width="0.6"/>
<rect x="447.8" y="288.44" width="8.8" height="5.5" fill="#e0e0e0" stroke="#5a5a5a" stroke-opacity="0.55" stroke-width="0.6"/>
<rect x="447.8" y="295.5" width="8.8" height="5.5" fill="#e0e0e0" stroke="#5a5a5a" stroke-opacity="0.55" stroke-width="0.6"/>
<rect x="447.8" y="302.56" width="8.8" height="5.5" fill="#e0e0e0" stroke="#5a5a5a" stroke-opacity="0.55" stroke-width="0.6"/>
<rect x="447.8" y="309.62" width="8.8" height="5.5" fill="#e0e0e0" stroke="#5a5a5a" stroke-opacity="0.55" stroke-width="0.6"/>
<rect x="447.8" y="316.68" width="8.8" height="5.5" fill="#e0e0e0" stroke="#5a5a5a" stroke-opacity="0.55" stroke-width="0.6"/>
<rect x="458.2" y="260.2" width="8.8" height="5.5" fill="#e0e0e0" stroke="#5a5a5a" stroke-opacity="0.55" stroke-width="0.6"/>
<rect x="458.2" y="267.26" width="8.8" height="5.5" fill="#e0e0e0" stroke="#5a5a5a" stroke-opacity="0.55" stroke-width="0.6"/>
<rect x="458.2" y="274.32" width="8.8" height="5.5" fill="#e0e0e0" stroke="#5a5a5a" stroke-opacity="0.55" stroke-width="0.6"/>
<rect x="458.2" y="281.38" width="8.8" height="5.5" fill="#e0e0e0" stroke="#5a5a5a" stroke-opacity="0.55" stroke-width="0.6"/>
<rect x="458.2" y="288.44" width="8.8" height="5.5" fill="#e0e0e0" stroke="#5a5a5a" stroke-opacity="0.55" stroke-width="0.6"/>
<rect x="458.2" y="295.5" width="8.8" height="5.5" fill="#e0e0e0" stroke="#5a5a5a" stroke-opacity="0.55" stroke-width="0.6"/>
<rect x="458.2" y="302.56" width="8.8" height="5.5" fill="#e0e0e0" stroke="#5a5a5a" stroke-opacity="0.55" stroke-width="0.6"/>
<rect x="458.2" y="309.62" width="8.8" height="5.5" fill="#e0e0e0" stroke="#5a5a5a" stroke-opacity="0.55" stroke-width="0.6"/>
<rect x="458.2" y="316.68" width="8.8" height="5.5" fill="#e0e0e0" stroke="#5a5a5a" stroke-opacity="0.55" stroke-width="0.6"/>
<line x1="447.5" y1="266.48" x2="467.3" y2="266.48" stroke="#4e4e4e" stroke-width="1.3"/>
<line x1="437.1" y1="273.54" x2="467.3" y2="273.54" stroke="#4e4e4e" stroke-width="1.3"/>
<line x1="426.7" y1="280.6" x2="467.3" y2="280.6" stroke="#4e4e4e" stroke-width="1.3"/>
<line x1="416.3" y1="287.66" x2="467.3" y2="287.66" stroke="#4e4e4e" stroke-width="1.3"/>
<line x1="416.3" y1="294.72" x2="467.3" y2="294.72" stroke="#4e4e4e" stroke-width="1.3"/>
<line x1="405.9" y1="301.78" x2="467.3" y2="301.78" stroke="#4e4e4e" stroke-width="1.3"/>
<line x1="405.9" y1="308.84" x2="467.3" y2="308.84" stroke="#000" stroke-width="1.45"/>
<line x1="405.9" y1="315.9" x2="467.3" y2="315.9" stroke="#4e4e4e" stroke-width="1.3"/>
<line x1="415.8" y1="295.2" x2="415.8" y2="322.48" stroke="#000" stroke-width="1.45"/>
<line x1="426.2" y1="281.08" x2="426.2" y2="322.48" stroke="#4e4e4e" stroke-width="1.3"/>
<line x1="436.6" y1="274.02" x2="436.6" y2="322.48" stroke="#000" stroke-width="1.45"/>
<line x1="447" y1="266.96" x2="447" y2="322.48" stroke="#000" stroke-width="1.45"/>
<line x1="436.6" y1="266.48" x2="447" y2="266.48" stroke="#789a26" stroke-width="1"/>
<line x1="426.2" y1="273.54" x2="436.6" y2="273.54" stroke="#789a26" stroke-width="1"/>
<line x1="415.8" y1="280.6" x2="426.2" y2="280.6" stroke="#789a26" stroke-width="1"/>
<line x1="405.4" y1="294.72" x2="415.8" y2="294.72" stroke="#789a26" stroke-width="1"/>
<line x1="415.8" y1="280.6" x2="415.8" y2="287.66" stroke="#789a26" stroke-width="1"/>
<line x1="415.8" y1="287.66" x2="415.8" y2="294.72" stroke="#789a26" stroke-width="1"/>
<line x1="426.2" y1="273.54" x2="426.2" y2="280.6" stroke="#789a26" stroke-width="1"/>
<line x1="436.6" y1="266.48" x2="436.6" y2="273.54" stroke="#789a26" stroke-width="1"/>
<line x1="447" y1="259.42" x2="447" y2="266.48" stroke="#789a26" stroke-width="1"/>
<rect x="469.1" y="252.3" width="34.5" height="95.3" fill="none" stroke="#789a26" stroke-width="1.4"/>
<rect x="471.8" y="254.3" width="8.9" height="5.5" fill="#e0e0e0" stroke="#5a5a5a" stroke-opacity="0.55" stroke-width="0.6"/>
<rect x="471.8" y="261.44" width="8.9" height="5.5" fill="#e0e0e0" stroke="#5a5a5a" stroke-opacity="0.55" stroke-width="0.6"/>
<rect x="471.8" y="268.58" width="8.9" height="5.5" fill="#e0e0e0" stroke="#5a5a5a" stroke-opacity="0.55" stroke-width="0.6"/>
<rect x="471.8" y="275.72" width="8.9" height="5.5" fill="#e0e0e0" stroke="#5a5a5a" stroke-opacity="0.55" stroke-width="0.6"/>
<rect x="471.8" y="282.86" width="8.9" height="5.5" fill="#e0e0e0" stroke="#5a5a5a" stroke-opacity="0.55" stroke-width="0.6"/>
<rect x="471.8" y="290" width="8.9" height="5.5" fill="#e0e0e0" stroke="#5a5a5a" stroke-opacity="0.55" stroke-width="0.6"/>
<rect x="471.8" y="297.14" width="8.9" height="5.5" fill="#e0e0e0" stroke="#5a5a5a" stroke-opacity="0.55" stroke-width="0.6"/>
<rect x="471.8" y="304.28" width="8.9" height="5.5" fill="#e0e0e0" stroke="#5a5a5a" stroke-opacity="0.55" stroke-width="0.6"/>
<rect x="471.8" y="311.42" width="8.9" height="5.5" fill="#e0e0e0" stroke="#5a5a5a" stroke-opacity="0.55" stroke-width="0.6"/>
<rect x="471.8" y="318.56" width="8.9" height="5.5" fill="#e0e0e0" stroke="#5a5a5a" stroke-opacity="0.55" stroke-width="0.6"/>
<rect x="471.8" y="325.7" width="8.9" height="5.5" fill="#e0e0e0" stroke="#5a5a5a" stroke-opacity="0.55" stroke-width="0.6"/>
<rect x="471.8" y="332.84" width="8.9" height="5.5" fill="#e0e0e0" stroke="#5a5a5a" stroke-opacity="0.55" stroke-width="0.6"/>
<rect x="471.8" y="339.98" width="8.9" height="5.5" fill="#e0e0e0" stroke="#5a5a5a" stroke-opacity="0.55" stroke-width="0.6"/>
<rect x="482.2" y="254.3" width="8.9" height="5.5" fill="#e0e0e0" stroke="#5a5a5a" stroke-opacity="0.55" stroke-width="0.6"/>
<rect x="482.2" y="261.44" width="8.9" height="5.5" fill="#e0e0e0" stroke="#5a5a5a" stroke-opacity="0.55" stroke-width="0.6"/>
<rect x="482.2" y="268.58" width="8.9" height="5.5" fill="#e0e0e0" stroke="#5a5a5a" stroke-opacity="0.55" stroke-width="0.6"/>
<rect x="482.2" y="275.72" width="8.9" height="5.5" fill="#e0e0e0" stroke="#5a5a5a" stroke-opacity="0.55" stroke-width="0.6"/>
<rect x="482.2" y="282.86" width="8.9" height="5.5" fill="#e0e0e0" stroke="#5a5a5a" stroke-opacity="0.55" stroke-width="0.6"/>
<rect x="482.2" y="290" width="8.9" height="5.5" fill="#e0e0e0" stroke="#5a5a5a" stroke-opacity="0.55" stroke-width="0.6"/>
<rect x="482.2" y="297.14" width="8.9" height="5.5" fill="#e0e0e0" stroke="#5a5a5a" stroke-opacity="0.55" stroke-width="0.6"/>
<rect x="482.2" y="304.28" width="8.9" height="5.5" fill="#e0e0e0" stroke="#5a5a5a" stroke-opacity="0.55" stroke-width="0.6"/>
<rect x="482.2" y="311.42" width="8.9" height="5.5" fill="#e0e0e0" stroke="#5a5a5a" stroke-opacity="0.55" stroke-width="0.6"/>
<rect x="482.2" y="318.56" width="8.9" height="5.5" fill="#e0e0e0" stroke="#5a5a5a" stroke-opacity="0.55" stroke-width="0.6"/>
<rect x="482.2" y="325.7" width="8.9" height="5.5" fill="#e0e0e0" stroke="#5a5a5a" stroke-opacity="0.55" stroke-width="0.6"/>
<rect x="482.2" y="332.84" width="8.9" height="5.5" fill="#e0e0e0" stroke="#5a5a5a" stroke-opacity="0.55" stroke-width="0.6"/>
<rect x="482.2" y="339.98" width="8.9" height="5.5" fill="#e0e0e0" stroke="#5a5a5a" stroke-opacity="0.55" stroke-width="0.6"/>
<rect x="492.6" y="254.3" width="8.9" height="5.5" fill="#e0e0e0" stroke="#5a5a5a" stroke-opacity="0.55" stroke-width="0.6"/>
<rect x="492.6" y="261.44" width="8.9" height="5.5" fill="#e0e0e0" stroke="#5a5a5a" stroke-opacity="0.55" stroke-width="0.6"/>
<rect x="492.6" y="268.58" width="8.9" height="5.5" fill="#e0e0e0" stroke="#5a5a5a" stroke-opacity="0.55" stroke-width="0.6"/>
<rect x="492.6" y="275.72" width="8.9" height="5.5" fill="#e0e0e0" stroke="#5a5a5a" stroke-opacity="0.55" stroke-width="0.6"/>
<rect x="492.6" y="282.86" width="8.9" height="5.5" fill="#e0e0e0" stroke="#5a5a5a" stroke-opacity="0.55" stroke-width="0.6"/>
<rect x="492.6" y="290" width="8.9" height="5.5" fill="#e0e0e0" stroke="#5a5a5a" stroke-opacity="0.55" stroke-width="0.6"/>
<rect x="492.6" y="297.14" width="8.9" height="5.5" fill="#e0e0e0" stroke="#5a5a5a" stroke-opacity="0.55" stroke-width="0.6"/>
<rect x="492.6" y="304.28" width="8.9" height="5.5" fill="#e0e0e0" stroke="#5a5a5a" stroke-opacity="0.55" stroke-width="0.6"/>
<rect x="492.6" y="311.42" width="8.9" height="5.5" fill="#e0e0e0" stroke="#5a5a5a" stroke-opacity="0.55" stroke-width="0.6"/>
<rect x="492.6" y="318.56" width="8.9" height="5.5" fill="#e0e0e0" stroke="#5a5a5a" stroke-opacity="0.55" stroke-width="0.6"/>
<rect x="492.6" y="325.7" width="8.9" height="5.5" fill="#e0e0e0" stroke="#5a5a5a" stroke-opacity="0.55" stroke-width="0.6"/>
<rect x="492.6" y="332.84" width="8.9" height="5.5" fill="#e0e0e0" stroke="#5a5a5a" stroke-opacity="0.55" stroke-width="0.6"/>
<rect x="492.6" y="339.98" width="8.9" height="5.5" fill="#e0e0e0" stroke="#5a5a5a" stroke-opacity="0.55" stroke-width="0.6"/>
<line x1="471.5" y1="260.62" x2="501.8" y2="260.62" stroke="#4e4e4e" stroke-width="1.3"/>
<line x1="471.5" y1="267.76" x2="501.8" y2="267.76" stroke="#4e4e4e" stroke-width="1.3"/>
<line x1="471.5" y1="274.9" x2="501.8" y2="274.9" stroke="#4e4e4e" stroke-width="1.3"/>
<line x1="471.5" y1="282.04" x2="501.8" y2="282.04" stroke="#000" stroke-width="1.45"/>
<line x1="471.5" y1="289.18" x2="501.8" y2="289.18" stroke="#000" stroke-width="1.45"/>
<line x1="471.5" y1="296.32" x2="501.8" y2="296.32" stroke="#000" stroke-width="1.45"/>
<line x1="471.5" y1="303.46" x2="501.8" y2="303.46" stroke="#4e4e4e" stroke-width="1.3"/>
<line x1="471.5" y1="310.6" x2="501.8" y2="310.6" stroke="#4e4e4e" stroke-width="1.3"/>
<line x1="471.5" y1="317.74" x2="501.8" y2="317.74" stroke="#4e4e4e" stroke-width="1.3"/>
<line x1="471.5" y1="324.88" x2="501.8" y2="324.88" stroke="#4e4e4e" stroke-width="1.3"/>
<line x1="471.5" y1="332.02" x2="501.8" y2="332.02" stroke="#000" stroke-width="1.45"/>
<line x1="471.5" y1="339.16" x2="501.8" y2="339.16" stroke="#000" stroke-width="1.45"/>
<line x1="481.45" y1="254" x2="481.45" y2="345.78" stroke="#4e4e4e" stroke-width="1.3"/>
<rect x="504.4" y="258.8" width="64.9" height="65" fill="none" stroke="#789a26" stroke-width="1.6"/>
<rect x="505.7" y="260.2" width="8.9" height="5.5" fill="#e0e0e0" stroke="#5a5a5a" stroke-opacity="0.55" stroke-width="0.6"/>
<rect x="505.7" y="267.26" width="8.9" height="5.5" fill="#e0e0e0" stroke="#5a5a5a" stroke-opacity="0.55" stroke-width="0.6"/>
<rect x="505.7" y="274.32" width="8.9" height="5.5" fill="#e0e0e0" stroke="#5a5a5a" stroke-opacity="0.55" stroke-width="0.6"/>
<rect x="505.7" y="281.38" width="8.9" height="5.5" fill="#e0e0e0" stroke="#5a5a5a" stroke-opacity="0.55" stroke-width="0.6"/>
<rect x="505.7" y="288.44" width="8.9" height="5.5" fill="#e0e0e0" stroke="#5a5a5a" stroke-opacity="0.55" stroke-width="0.6"/>
<rect x="505.7" y="295.5" width="8.9" height="5.5" fill="#e0e0e0" stroke="#5a5a5a" stroke-opacity="0.55" stroke-width="0.6"/>
<rect x="505.7" y="302.56" width="8.9" height="5.5" fill="#e0e0e0" stroke="#5a5a5a" stroke-opacity="0.55" stroke-width="0.6"/>
<rect x="505.7" y="309.62" width="8.9" height="5.5" fill="#e0e0e0" stroke="#5a5a5a" stroke-opacity="0.55" stroke-width="0.6"/>
<rect x="505.7" y="316.68" width="8.9" height="5.5" fill="#e0e0e0" stroke="#5a5a5a" stroke-opacity="0.55" stroke-width="0.6"/>
<rect x="516.15" y="260.2" width="8.9" height="5.5" fill="#e0e0e0" stroke="#5a5a5a" stroke-opacity="0.55" stroke-width="0.6"/>
<rect x="516.15" y="267.26" width="8.9" height="5.5" fill="#e0e0e0" stroke="#5a5a5a" stroke-opacity="0.55" stroke-width="0.6"/>
<rect x="516.15" y="274.32" width="8.9" height="5.5" fill="#e0e0e0" stroke="#5a5a5a" stroke-opacity="0.55" stroke-width="0.6"/>
<rect x="516.15" y="281.38" width="8.9" height="5.5" fill="#e0e0e0" stroke="#5a5a5a" stroke-opacity="0.55" stroke-width="0.6"/>
<rect x="516.15" y="288.44" width="8.9" height="5.5" fill="#e0e0e0" stroke="#5a5a5a" stroke-opacity="0.55" stroke-width="0.6"/>
<rect x="516.15" y="295.5" width="8.9" height="5.5" fill="#e0e0e0" stroke="#5a5a5a" stroke-opacity="0.55" stroke-width="0.6"/>
<rect x="516.15" y="302.56" width="8.9" height="5.5" fill="#e0e0e0" stroke="#5a5a5a" stroke-opacity="0.55" stroke-width="0.6"/>
<rect x="516.15" y="309.62" width="8.9" height="5.5" fill="#e0e0e0" stroke="#5a5a5a" stroke-opacity="0.55" stroke-width="0.6"/>
<rect x="516.15" y="316.68" width="8.9" height="5.5" fill="#e0e0e0" stroke="#5a5a5a" stroke-opacity="0.55" stroke-width="0.6"/>
<rect x="526.6" y="267.26" width="8.9" height="5.5" fill="#e0e0e0" stroke="#5a5a5a" stroke-opacity="0.55" stroke-width="0.6"/>
<rect x="526.6" y="274.32" width="8.9" height="5.5" fill="#e0e0e0" stroke="#5a5a5a" stroke-opacity="0.55" stroke-width="0.6"/>
<rect x="526.6" y="281.38" width="8.9" height="5.5" fill="#e0e0e0" stroke="#5a5a5a" stroke-opacity="0.55" stroke-width="0.6"/>
<rect x="526.6" y="288.44" width="8.9" height="5.5" fill="#e0e0e0" stroke="#5a5a5a" stroke-opacity="0.55" stroke-width="0.6"/>
<rect x="526.6" y="295.5" width="8.9" height="5.5" fill="#e0e0e0" stroke="#5a5a5a" stroke-opacity="0.55" stroke-width="0.6"/>
<rect x="526.6" y="302.56" width="8.9" height="5.5" fill="#e0e0e0" stroke="#5a5a5a" stroke-opacity="0.55" stroke-width="0.6"/>
<rect x="526.6" y="309.62" width="8.9" height="5.5" fill="#e0e0e0" stroke="#5a5a5a" stroke-opacity="0.55" stroke-width="0.6"/>
<rect x="526.6" y="316.68" width="8.9" height="5.5" fill="#e0e0e0" stroke="#5a5a5a" stroke-opacity="0.55" stroke-width="0.6"/>
<rect x="537.05" y="274.32" width="8.9" height="5.5" fill="#e0e0e0" stroke="#5a5a5a" stroke-opacity="0.55" stroke-width="0.6"/>
<rect x="537.05" y="281.38" width="8.9" height="5.5" fill="#e0e0e0" stroke="#5a5a5a" stroke-opacity="0.55" stroke-width="0.6"/>
<rect x="537.05" y="288.44" width="8.9" height="5.5" fill="#e0e0e0" stroke="#5a5a5a" stroke-opacity="0.55" stroke-width="0.6"/>
<rect x="537.05" y="295.5" width="8.9" height="5.5" fill="#e0e0e0" stroke="#5a5a5a" stroke-opacity="0.55" stroke-width="0.6"/>
<rect x="537.05" y="302.56" width="8.9" height="5.5" fill="#e0e0e0" stroke="#5a5a5a" stroke-opacity="0.55" stroke-width="0.6"/>
<rect x="537.05" y="309.62" width="8.9" height="5.5" fill="#e0e0e0" stroke="#5a5a5a" stroke-opacity="0.55" stroke-width="0.6"/>
<rect x="537.05" y="316.68" width="8.9" height="5.5" fill="#e0e0e0" stroke="#5a5a5a" stroke-opacity="0.55" stroke-width="0.6"/>
<rect x="547.5" y="281.38" width="8.9" height="5.5" fill="#e0e0e0" stroke="#5a5a5a" stroke-opacity="0.55" stroke-width="0.6"/>
<rect x="547.5" y="288.44" width="8.9" height="5.5" fill="#e0e0e0" stroke="#5a5a5a" stroke-opacity="0.55" stroke-width="0.6"/>
<rect x="547.5" y="295.5" width="8.9" height="5.5" fill="#e0e0e0" stroke="#5a5a5a" stroke-opacity="0.55" stroke-width="0.6"/>
<rect x="547.5" y="302.56" width="8.9" height="5.5" fill="#e0e0e0" stroke="#5a5a5a" stroke-opacity="0.55" stroke-width="0.6"/>
<rect x="547.5" y="309.62" width="8.9" height="5.5" fill="#e0e0e0" stroke="#5a5a5a" stroke-opacity="0.55" stroke-width="0.6"/>
<rect x="547.5" y="316.68" width="8.9" height="5.5" fill="#e0e0e0" stroke="#5a5a5a" stroke-opacity="0.55" stroke-width="0.6"/>
<rect x="557.95" y="295.5" width="8.9" height="5.5" fill="#e0e0e0" stroke="#5a5a5a" stroke-opacity="0.55" stroke-width="0.6"/>
<rect x="557.95" y="302.56" width="8.9" height="5.5" fill="#e0e0e0" stroke="#5a5a5a" stroke-opacity="0.55" stroke-width="0.6"/>
<rect x="557.95" y="309.62" width="8.9" height="5.5" fill="#e0e0e0" stroke="#5a5a5a" stroke-opacity="0.55" stroke-width="0.6"/>
<rect x="557.95" y="316.68" width="8.9" height="5.5" fill="#e0e0e0" stroke="#5a5a5a" stroke-opacity="0.55" stroke-width="0.6"/>
<line x1="505.4" y1="266.48" x2="525.35" y2="266.48" stroke="#4e4e4e" stroke-width="1.3"/>
<line x1="505.4" y1="273.54" x2="535.8" y2="273.54" stroke="#4e4e4e" stroke-width="1.3"/>
<line x1="505.4" y1="280.6" x2="546.25" y2="280.6" stroke="#4e4e4e" stroke-width="1.3"/>
<line x1="505.4" y1="287.66" x2="556.7" y2="287.66" stroke="#000" stroke-width="1.45"/>
<line x1="505.4" y1="294.72" x2="567.15" y2="294.72" stroke="#000" stroke-width="1.45"/>
<line x1="505.4" y1="301.78" x2="567.15" y2="301.78" stroke="#000" stroke-width="1.45"/>
<line x1="505.4" y1="308.84" x2="567.15" y2="308.84" stroke="#000" stroke-width="1.45"/>
<line x1="505.4" y1="315.9" x2="567.15" y2="315.9" stroke="#4e4e4e" stroke-width="1.3"/>
<line x1="515.38" y1="259.9" x2="515.38" y2="322.48" stroke="#000" stroke-width="1.45"/>
<line x1="525.82" y1="266.96" x2="525.82" y2="322.48" stroke="#4e4e4e" stroke-width="1.3"/>
<line x1="536.27" y1="274.02" x2="536.27" y2="322.48" stroke="#4e4e4e" stroke-width="1.3"/>
<line x1="546.72" y1="281.08" x2="546.72" y2="322.48" stroke="#000" stroke-width="1.45"/>
<line x1="557.17" y1="295.2" x2="557.17" y2="322.48" stroke="#4e4e4e" stroke-width="1.3"/>
<line x1="525.83" y1="266.48" x2="536.27" y2="266.48" stroke="#789a26" stroke-width="1"/>
<line x1="536.27" y1="273.54" x2="546.72" y2="273.54" stroke="#789a26" stroke-width="1"/>
<line x1="546.73" y1="280.6" x2="557.17" y2="280.6" stroke="#789a26" stroke-width="1"/>
<line x1="525.82" y1="259.42" x2="525.82" y2="266.48" stroke="#789a26" stroke-width="1"/>
<line x1="536.27" y1="266.48" x2="536.27" y2="273.54" stroke="#789a26" stroke-width="1"/>
<line x1="546.72" y1="273.54" x2="546.72" y2="280.6" stroke="#789a26" stroke-width="1"/>
<line x1="557.17" y1="280.6" x2="557.17" y2="287.66" stroke="#789a26" stroke-width="1"/>
<line x1="557.17" y1="287.66" x2="557.17" y2="294.72" stroke="#789a26" stroke-width="1"/>
<rect x="393.6" y="326" width="74.4" height="44.5" fill="none" stroke="#789a26" stroke-width="1.2"/>
<rect x="395.7" y="328.1" width="8.1" height="5" fill="#e0e0e0" stroke="#5a5a5a" stroke-opacity="0.55" stroke-width="0.6"/>
<rect x="395.7" y="335.2" width="8.1" height="5" fill="#e0e0e0" stroke="#5a5a5a" stroke-opacity="0.55" stroke-width="0.6"/>
<rect x="395.7" y="342.3" width="8.1" height="5" fill="#e0e0e0" stroke="#5a5a5a" stroke-opacity="0.55" stroke-width="0.6"/>
<rect x="395.7" y="349.4" width="8.1" height="5" fill="#e0e0e0" stroke="#5a5a5a" stroke-opacity="0.55" stroke-width="0.6"/>
<rect x="395.7" y="356.5" width="8.1" height="5" fill="#e0e0e0" stroke="#5a5a5a" stroke-opacity="0.55" stroke-width="0.6"/>
<rect x="395.7" y="363.6" width="8.1" height="5" fill="#e0e0e0" stroke="#5a5a5a" stroke-opacity="0.55" stroke-width="0.6"/>
<rect x="406.2" y="328.1" width="8.1" height="5" fill="#e0e0e0" stroke="#5a5a5a" stroke-opacity="0.55" stroke-width="0.6"/>
<rect x="406.2" y="335.2" width="8.1" height="5" fill="#e0e0e0" stroke="#5a5a5a" stroke-opacity="0.55" stroke-width="0.6"/>
<rect x="406.2" y="342.3" width="8.1" height="5" fill="#e0e0e0" stroke="#5a5a5a" stroke-opacity="0.55" stroke-width="0.6"/>
<rect x="406.2" y="349.4" width="8.1" height="5" fill="#e0e0e0" stroke="#5a5a5a" stroke-opacity="0.55" stroke-width="0.6"/>
<rect x="406.2" y="356.5" width="8.1" height="5" fill="#e0e0e0" stroke="#5a5a5a" stroke-opacity="0.55" stroke-width="0.6"/>
<rect x="406.2" y="363.6" width="8.1" height="5" fill="#e0e0e0" stroke="#5a5a5a" stroke-opacity="0.55" stroke-width="0.6"/>
<rect x="416.7" y="328.1" width="8.1" height="5" fill="#e0e0e0" stroke="#5a5a5a" stroke-opacity="0.55" stroke-width="0.6"/>
<rect x="416.7" y="335.2" width="8.1" height="5" fill="#e0e0e0" stroke="#5a5a5a" stroke-opacity="0.55" stroke-width="0.6"/>
<rect x="416.7" y="342.3" width="8.1" height="5" fill="#e0e0e0" stroke="#5a5a5a" stroke-opacity="0.55" stroke-width="0.6"/>
<rect x="416.7" y="349.4" width="8.1" height="5" fill="#e0e0e0" stroke="#5a5a5a" stroke-opacity="0.55" stroke-width="0.6"/>
<rect x="416.7" y="356.5" width="8.1" height="5" fill="#e0e0e0" stroke="#5a5a5a" stroke-opacity="0.55" stroke-width="0.6"/>
<rect x="416.7" y="363.6" width="8.1" height="5" fill="#e0e0e0" stroke="#5a5a5a" stroke-opacity="0.55" stroke-width="0.6"/>
<rect x="427.2" y="328.1" width="8.1" height="5" fill="#e0e0e0" stroke="#5a5a5a" stroke-opacity="0.55" stroke-width="0.6"/>
<rect x="427.2" y="335.2" width="8.1" height="5" fill="#e0e0e0" stroke="#5a5a5a" stroke-opacity="0.55" stroke-width="0.6"/>
<rect x="427.2" y="342.3" width="8.1" height="5" fill="#e0e0e0" stroke="#5a5a5a" stroke-opacity="0.55" stroke-width="0.6"/>
<rect x="427.2" y="349.4" width="8.1" height="5" fill="#e0e0e0" stroke="#5a5a5a" stroke-opacity="0.55" stroke-width="0.6"/>
<rect x="427.2" y="356.5" width="8.1" height="5" fill="#e0e0e0" stroke="#5a5a5a" stroke-opacity="0.55" stroke-width="0.6"/>
<rect x="427.2" y="363.6" width="8.1" height="5" fill="#e0e0e0" stroke="#5a5a5a" stroke-opacity="0.55" stroke-width="0.6"/>
<rect x="437.7" y="328.1" width="8.1" height="5" fill="#e0e0e0" stroke="#5a5a5a" stroke-opacity="0.55" stroke-width="0.6"/>
<rect x="437.7" y="335.2" width="8.1" height="5" fill="#e0e0e0" stroke="#5a5a5a" stroke-opacity="0.55" stroke-width="0.6"/>
<rect x="437.7" y="342.3" width="8.1" height="5" fill="#e0e0e0" stroke="#5a5a5a" stroke-opacity="0.55" stroke-width="0.6"/>
<rect x="437.7" y="349.4" width="8.1" height="5" fill="#e0e0e0" stroke="#5a5a5a" stroke-opacity="0.55" stroke-width="0.6"/>
<rect x="437.7" y="356.5" width="8.1" height="5" fill="#e0e0e0" stroke="#5a5a5a" stroke-opacity="0.55" stroke-width="0.6"/>
<rect x="437.7" y="363.6" width="8.1" height="5" fill="#e0e0e0" stroke="#5a5a5a" stroke-opacity="0.55" stroke-width="0.6"/>
<rect x="448.2" y="328.1" width="8.1" height="5" fill="#e0e0e0" stroke="#5a5a5a" stroke-opacity="0.55" stroke-width="0.6"/>
<rect x="448.2" y="335.2" width="8.1" height="5" fill="#e0e0e0" stroke="#5a5a5a" stroke-opacity="0.55" stroke-width="0.6"/>
<rect x="448.2" y="342.3" width="8.1" height="5" fill="#e0e0e0" stroke="#5a5a5a" stroke-opacity="0.55" stroke-width="0.6"/>
<rect x="448.2" y="349.4" width="8.1" height="5" fill="#e0e0e0" stroke="#5a5a5a" stroke-opacity="0.55" stroke-width="0.6"/>
<rect x="448.2" y="356.5" width="8.1" height="5" fill="#e0e0e0" stroke="#5a5a5a" stroke-opacity="0.55" stroke-width="0.6"/>
<rect x="448.2" y="363.6" width="8.1" height="5" fill="#e0e0e0" stroke="#5a5a5a" stroke-opacity="0.55" stroke-width="0.6"/>
<rect x="458.7" y="328.1" width="8.1" height="5" fill="#e0e0e0" stroke="#5a5a5a" stroke-opacity="0.55" stroke-width="0.6"/>
<rect x="458.7" y="335.2" width="8.1" height="5" fill="#e0e0e0" stroke="#5a5a5a" stroke-opacity="0.55" stroke-width="0.6"/>
<rect x="458.7" y="342.3" width="8.1" height="5" fill="#e0e0e0" stroke="#5a5a5a" stroke-opacity="0.55" stroke-width="0.6"/>
<rect x="458.7" y="349.4" width="8.1" height="5" fill="#e0e0e0" stroke="#5a5a5a" stroke-opacity="0.55" stroke-width="0.6"/>
<rect x="458.7" y="356.5" width="8.1" height="5" fill="#e0e0e0" stroke="#5a5a5a" stroke-opacity="0.55" stroke-width="0.6"/>
<rect x="458.7" y="363.6" width="8.1" height="5" fill="#e0e0e0" stroke="#5a5a5a" stroke-opacity="0.55" stroke-width="0.6"/>
<line x1="395.4" y1="334.15" x2="467.1" y2="334.15" stroke="#000" stroke-width="1.45"/>
<line x1="395.4" y1="341.25" x2="467.1" y2="341.25" stroke="#000" stroke-width="1.45"/>
<line x1="395.4" y1="348.35" x2="467.1" y2="348.35" stroke="#000" stroke-width="1.45"/>
<line x1="405" y1="327.8" x2="405" y2="368.9" stroke="#000" stroke-width="1.45"/>
<line x1="426" y1="327.8" x2="426" y2="368.9" stroke="#000" stroke-width="1.45"/>
<line x1="436.5" y1="327.8" x2="436.5" y2="368.9" stroke="#000" stroke-width="1.45"/>
<line x1="447" y1="327.8" x2="447" y2="347.6" stroke="#000" stroke-width="1.45"/>
<rect x="504.7" y="326" width="73.6" height="44.9" fill="none" stroke="#789a26" stroke-width="1.2"/>
<rect x="506" y="328.1" width="8.1" height="5" fill="#e0e0e0" stroke="#5a5a5a" stroke-opacity="0.55" stroke-width="0.6"/>
<rect x="506" y="335.2" width="8.1" height="5" fill="#e0e0e0" stroke="#5a5a5a" stroke-opacity="0.55" stroke-width="0.6"/>
<rect x="506" y="342.3" width="8.1" height="5" fill="#e0e0e0" stroke="#5a5a5a" stroke-opacity="0.55" stroke-width="0.6"/>
<rect x="506" y="349.4" width="8.1" height="5" fill="#e0e0e0" stroke="#5a5a5a" stroke-opacity="0.55" stroke-width="0.6"/>
<rect x="506" y="356.5" width="8.1" height="5" fill="#e0e0e0" stroke="#5a5a5a" stroke-opacity="0.55" stroke-width="0.6"/>
<rect x="506" y="363.6" width="8.1" height="5" fill="#e0e0e0" stroke="#5a5a5a" stroke-opacity="0.55" stroke-width="0.6"/>
<rect x="516.35" y="328.1" width="8.1" height="5" fill="#e0e0e0" stroke="#5a5a5a" stroke-opacity="0.55" stroke-width="0.6"/>
<rect x="516.35" y="335.2" width="8.1" height="5" fill="#e0e0e0" stroke="#5a5a5a" stroke-opacity="0.55" stroke-width="0.6"/>
<rect x="516.35" y="342.3" width="8.1" height="5" fill="#e0e0e0" stroke="#5a5a5a" stroke-opacity="0.55" stroke-width="0.6"/>
<rect x="516.35" y="349.4" width="8.1" height="5" fill="#e0e0e0" stroke="#5a5a5a" stroke-opacity="0.55" stroke-width="0.6"/>
<rect x="516.35" y="356.5" width="8.1" height="5" fill="#e0e0e0" stroke="#5a5a5a" stroke-opacity="0.55" stroke-width="0.6"/>
<rect x="516.35" y="363.6" width="8.1" height="5" fill="#e0e0e0" stroke="#5a5a5a" stroke-opacity="0.55" stroke-width="0.6"/>
<rect x="526.7" y="328.1" width="8.1" height="5" fill="#e0e0e0" stroke="#5a5a5a" stroke-opacity="0.55" stroke-width="0.6"/>
<rect x="526.7" y="335.2" width="8.1" height="5" fill="#e0e0e0" stroke="#5a5a5a" stroke-opacity="0.55" stroke-width="0.6"/>
<rect x="526.7" y="342.3" width="8.1" height="5" fill="#e0e0e0" stroke="#5a5a5a" stroke-opacity="0.55" stroke-width="0.6"/>
<rect x="526.7" y="349.4" width="8.1" height="5" fill="#e0e0e0" stroke="#5a5a5a" stroke-opacity="0.55" stroke-width="0.6"/>
<rect x="526.7" y="356.5" width="8.1" height="5" fill="#e0e0e0" stroke="#5a5a5a" stroke-opacity="0.55" stroke-width="0.6"/>
<rect x="526.7" y="363.6" width="8.1" height="5" fill="#e0e0e0" stroke="#5a5a5a" stroke-opacity="0.55" stroke-width="0.6"/>
<rect x="537.05" y="328.1" width="8.1" height="5" fill="#e0e0e0" stroke="#5a5a5a" stroke-opacity="0.55" stroke-width="0.6"/>
<rect x="537.05" y="335.2" width="8.1" height="5" fill="#e0e0e0" stroke="#5a5a5a" stroke-opacity="0.55" stroke-width="0.6"/>
<rect x="537.05" y="342.3" width="8.1" height="5" fill="#e0e0e0" stroke="#5a5a5a" stroke-opacity="0.55" stroke-width="0.6"/>
<rect x="537.05" y="349.4" width="8.1" height="5" fill="#e0e0e0" stroke="#5a5a5a" stroke-opacity="0.55" stroke-width="0.6"/>
<rect x="537.05" y="356.5" width="8.1" height="5" fill="#e0e0e0" stroke="#5a5a5a" stroke-opacity="0.55" stroke-width="0.6"/>
<rect x="537.05" y="363.6" width="8.1" height="5" fill="#e0e0e0" stroke="#5a5a5a" stroke-opacity="0.55" stroke-width="0.6"/>
<rect x="547.4" y="328.1" width="8.1" height="5" fill="#e0e0e0" stroke="#5a5a5a" stroke-opacity="0.55" stroke-width="0.6"/>
<rect x="547.4" y="335.2" width="8.1" height="5" fill="#e0e0e0" stroke="#5a5a5a" stroke-opacity="0.55" stroke-width="0.6"/>
<rect x="547.4" y="342.3" width="8.1" height="5" fill="#e0e0e0" stroke="#5a5a5a" stroke-opacity="0.55" stroke-width="0.6"/>
<rect x="547.4" y="349.4" width="8.1" height="5" fill="#e0e0e0" stroke="#5a5a5a" stroke-opacity="0.55" stroke-width="0.6"/>
<rect x="547.4" y="356.5" width="8.1" height="5" fill="#e0e0e0" stroke="#5a5a5a" stroke-opacity="0.55" stroke-width="0.6"/>
<rect x="547.4" y="363.6" width="8.1" height="5" fill="#e0e0e0" stroke="#5a5a5a" stroke-opacity="0.55" stroke-width="0.6"/>
<rect x="557.75" y="328.1" width="8.1" height="5" fill="#e0e0e0" stroke="#5a5a5a" stroke-opacity="0.55" stroke-width="0.6"/>
<rect x="557.75" y="335.2" width="8.1" height="5" fill="#e0e0e0" stroke="#5a5a5a" stroke-opacity="0.55" stroke-width="0.6"/>
<rect x="557.75" y="342.3" width="8.1" height="5" fill="#e0e0e0" stroke="#5a5a5a" stroke-opacity="0.55" stroke-width="0.6"/>
<rect x="557.75" y="349.4" width="8.1" height="5" fill="#e0e0e0" stroke="#5a5a5a" stroke-opacity="0.55" stroke-width="0.6"/>
<rect x="557.75" y="356.5" width="8.1" height="5" fill="#e0e0e0" stroke="#5a5a5a" stroke-opacity="0.55" stroke-width="0.6"/>
<rect x="557.75" y="363.6" width="8.1" height="5" fill="#e0e0e0" stroke="#5a5a5a" stroke-opacity="0.55" stroke-width="0.6"/>
<rect x="568.1" y="328.1" width="8.1" height="5" fill="#e0e0e0" stroke="#5a5a5a" stroke-opacity="0.55" stroke-width="0.6"/>
<rect x="568.1" y="335.2" width="8.1" height="5" fill="#e0e0e0" stroke="#5a5a5a" stroke-opacity="0.55" stroke-width="0.6"/>
<rect x="568.1" y="342.3" width="8.1" height="5" fill="#e0e0e0" stroke="#5a5a5a" stroke-opacity="0.55" stroke-width="0.6"/>
<rect x="568.1" y="349.4" width="8.1" height="5" fill="#e0e0e0" stroke="#5a5a5a" stroke-opacity="0.55" stroke-width="0.6"/>
<rect x="568.1" y="356.5" width="8.1" height="5" fill="#e0e0e0" stroke="#5a5a5a" stroke-opacity="0.55" stroke-width="0.6"/>
<rect x="568.1" y="363.6" width="8.1" height="5" fill="#e0e0e0" stroke="#5a5a5a" stroke-opacity="0.55" stroke-width="0.6"/>
<line x1="505.7" y1="334.15" x2="576.5" y2="334.15" stroke="#000" stroke-width="1.45"/>
<line x1="505.7" y1="341.25" x2="576.5" y2="341.25" stroke="#000" stroke-width="1.45"/>
<line x1="505.7" y1="348.35" x2="576.5" y2="348.35" stroke="#3f5a42" stroke-width="1.3"/>
<line x1="535.93" y1="327.8" x2="535.93" y2="368.9" stroke="#000" stroke-width="1.45"/>
<line x1="556.62" y1="327.8" x2="556.62" y2="368.9" stroke="#000" stroke-width="1.45"/>
<line x1="566.98" y1="327.8" x2="566.98" y2="368.9" stroke="#000" stroke-width="1.45"/>
<rect x="469.6" y="349.8" width="34" height="95.2" fill="none" stroke="#789a26" stroke-width="1.4"/>
<rect x="471.8" y="351.9" width="8.9" height="5.5" fill="#e0e0e0" stroke="#5a5a5a" stroke-opacity="0.55" stroke-width="0.6"/>
<rect x="471.8" y="359.04" width="8.9" height="5.5" fill="#e0e0e0" stroke="#5a5a5a" stroke-opacity="0.55" stroke-width="0.6"/>
<rect x="471.8" y="366.18" width="8.9" height="5.5" fill="#e0e0e0" stroke="#5a5a5a" stroke-opacity="0.55" stroke-width="0.6"/>
<rect x="471.8" y="373.32" width="8.9" height="5.5" fill="#e0e0e0" stroke="#5a5a5a" stroke-opacity="0.55" stroke-width="0.6"/>
<rect x="471.8" y="380.46" width="8.9" height="5.5" fill="#e0e0e0" stroke="#5a5a5a" stroke-opacity="0.55" stroke-width="0.6"/>
<rect x="471.8" y="387.6" width="8.9" height="5.5" fill="#e0e0e0" stroke="#5a5a5a" stroke-opacity="0.55" stroke-width="0.6"/>
<rect x="471.8" y="394.74" width="8.9" height="5.5" fill="#e0e0e0" stroke="#5a5a5a" stroke-opacity="0.55" stroke-width="0.6"/>
<rect x="471.8" y="401.88" width="8.9" height="5.5" fill="#e0e0e0" stroke="#5a5a5a" stroke-opacity="0.55" stroke-width="0.6"/>
<rect x="471.8" y="409.02" width="8.9" height="5.5" fill="#e0e0e0" stroke="#5a5a5a" stroke-opacity="0.55" stroke-width="0.6"/>
<rect x="471.8" y="416.16" width="8.9" height="5.5" fill="#e0e0e0" stroke="#5a5a5a" stroke-opacity="0.55" stroke-width="0.6"/>
<rect x="471.8" y="423.3" width="8.9" height="5.5" fill="#e0e0e0" stroke="#5a5a5a" stroke-opacity="0.55" stroke-width="0.6"/>
<rect x="471.8" y="430.44" width="8.9" height="5.5" fill="#e0e0e0" stroke="#5a5a5a" stroke-opacity="0.55" stroke-width="0.6"/>
<rect x="471.8" y="437.58" width="8.9" height="5.5" fill="#e0e0e0" stroke="#5a5a5a" stroke-opacity="0.55" stroke-width="0.6"/>
<rect x="482.2" y="351.9" width="8.9" height="5.5" fill="#e0e0e0" stroke="#5a5a5a" stroke-opacity="0.55" stroke-width="0.6"/>
<rect x="482.2" y="359.04" width="8.9" height="5.5" fill="#e0e0e0" stroke="#5a5a5a" stroke-opacity="0.55" stroke-width="0.6"/>
<rect x="482.2" y="366.18" width="8.9" height="5.5" fill="#e0e0e0" stroke="#5a5a5a" stroke-opacity="0.55" stroke-width="0.6"/>
<rect x="482.2" y="373.32" width="8.9" height="5.5" fill="#e0e0e0" stroke="#5a5a5a" stroke-opacity="0.55" stroke-width="0.6"/>
<rect x="482.2" y="380.46" width="8.9" height="5.5" fill="#e0e0e0" stroke="#5a5a5a" stroke-opacity="0.55" stroke-width="0.6"/>
<rect x="482.2" y="387.6" width="8.9" height="5.5" fill="#e0e0e0" stroke="#5a5a5a" stroke-opacity="0.55" stroke-width="0.6"/>
<rect x="482.2" y="394.74" width="8.9" height="5.5" fill="#e0e0e0" stroke="#5a5a5a" stroke-opacity="0.55" stroke-width="0.6"/>
<rect x="482.2" y="401.88" width="8.9" height="5.5" fill="#e0e0e0" stroke="#5a5a5a" stroke-opacity="0.55" stroke-width="0.6"/>
<rect x="482.2" y="409.02" width="8.9" height="5.5" fill="#e0e0e0" stroke="#5a5a5a" stroke-opacity="0.55" stroke-width="0.6"/>
<rect x="482.2" y="416.16" width="8.9" height="5.5" fill="#e0e0e0" stroke="#5a5a5a" stroke-opacity="0.55" stroke-width="0.6"/>
<rect x="482.2" y="423.3" width="8.9" height="5.5" fill="#e0e0e0" stroke="#5a5a5a" stroke-opacity="0.55" stroke-width="0.6"/>
<rect x="482.2" y="430.44" width="8.9" height="5.5" fill="#e0e0e0" stroke="#5a5a5a" stroke-opacity="0.55" stroke-width="0.6"/>
<rect x="482.2" y="437.58" width="8.9" height="5.5" fill="#e0e0e0" stroke="#5a5a5a" stroke-opacity="0.55" stroke-width="0.6"/>
<rect x="492.6" y="351.9" width="8.9" height="5.5" fill="#e0e0e0" stroke="#5a5a5a" stroke-opacity="0.55" stroke-width="0.6"/>
<rect x="492.6" y="359.04" width="8.9" height="5.5" fill="#e0e0e0" stroke="#5a5a5a" stroke-opacity="0.55" stroke-width="0.6"/>
<rect x="492.6" y="366.18" width="8.9" height="5.5" fill="#e0e0e0" stroke="#5a5a5a" stroke-opacity="0.55" stroke-width="0.6"/>
<rect x="492.6" y="373.32" width="8.9" height="5.5" fill="#e0e0e0" stroke="#5a5a5a" stroke-opacity="0.55" stroke-width="0.6"/>
<rect x="492.6" y="380.46" width="8.9" height="5.5" fill="#e0e0e0" stroke="#5a5a5a" stroke-opacity="0.55" stroke-width="0.6"/>
<rect x="492.6" y="387.6" width="8.9" height="5.5" fill="#e0e0e0" stroke="#5a5a5a" stroke-opacity="0.55" stroke-width="0.6"/>
<rect x="492.6" y="394.74" width="8.9" height="5.5" fill="#e0e0e0" stroke="#5a5a5a" stroke-opacity="0.55" stroke-width="0.6"/>
<rect x="492.6" y="401.88" width="8.9" height="5.5" fill="#e0e0e0" stroke="#5a5a5a" stroke-opacity="0.55" stroke-width="0.6"/>
<rect x="492.6" y="409.02" width="8.9" height="5.5" fill="#e0e0e0" stroke="#5a5a5a" stroke-opacity="0.55" stroke-width="0.6"/>
<rect x="492.6" y="416.16" width="8.9" height="5.5" fill="#e0e0e0" stroke="#5a5a5a" stroke-opacity="0.55" stroke-width="0.6"/>
<rect x="492.6" y="423.3" width="8.9" height="5.5" fill="#e0e0e0" stroke="#5a5a5a" stroke-opacity="0.55" stroke-width="0.6"/>
<rect x="492.6" y="430.44" width="8.9" height="5.5" fill="#e0e0e0" stroke="#5a5a5a" stroke-opacity="0.55" stroke-width="0.6"/>
<rect x="492.6" y="437.58" width="8.9" height="5.5" fill="#e0e0e0" stroke="#5a5a5a" stroke-opacity="0.55" stroke-width="0.6"/>
<line x1="471.5" y1="358.22" x2="501.8" y2="358.22" stroke="#000" stroke-width="1.45"/>
<line x1="471.5" y1="365.36" x2="501.8" y2="365.36" stroke="#000" stroke-width="1.45"/>
<line x1="471.5" y1="372.5" x2="501.8" y2="372.5" stroke="#000" stroke-width="1.45"/>
<line x1="471.5" y1="379.64" x2="501.8" y2="379.64" stroke="#000" stroke-width="1.45"/>
<line x1="471.5" y1="386.78" x2="501.8" y2="386.78" stroke="#4e4e4e" stroke-width="1.3"/>
<line x1="471.5" y1="393.92" x2="501.8" y2="393.92" stroke="#4e4e4e" stroke-width="1.3"/>
<line x1="471.5" y1="401.06" x2="501.8" y2="401.06" stroke="#4e4e4e" stroke-width="1.3"/>
<line x1="471.5" y1="408.2" x2="501.8" y2="408.2" stroke="#4e4e4e" stroke-width="1.3"/>
<line x1="471.5" y1="415.34" x2="501.8" y2="415.34" stroke="#000" stroke-width="1.45"/>
<line x1="471.5" y1="422.48" x2="501.8" y2="422.48" stroke="#000" stroke-width="1.45"/>
<line x1="471.5" y1="429.62" x2="501.8" y2="429.62" stroke="#000" stroke-width="1.45"/>
<line x1="471.5" y1="436.76" x2="501.8" y2="436.76" stroke="#4e4e4e" stroke-width="1.3"/>
<line x1="481.45" y1="351.6" x2="481.45" y2="443.38" stroke="#000" stroke-width="1.45"/>
<line x1="491.85" y1="351.6" x2="491.85" y2="443.38" stroke="#000" stroke-width="1.45"/>
<rect x="404" y="371.3" width="64.7" height="66" fill="none" stroke="#789a26" stroke-width="1.6"/>
<rect x="406.2" y="374.2" width="8.8" height="5" fill="#e0e0e0" stroke="#5a5a5a" stroke-opacity="0.55" stroke-width="0.6"/>
<rect x="406.2" y="381.26" width="8.8" height="5" fill="#e0e0e0" stroke="#5a5a5a" stroke-opacity="0.55" stroke-width="0.6"/>
<rect x="406.2" y="388.32" width="8.8" height="5" fill="#e0e0e0" stroke="#5a5a5a" stroke-opacity="0.55" stroke-width="0.6"/>
<rect x="406.2" y="395.38" width="8.8" height="5" fill="#e0e0e0" stroke="#5a5a5a" stroke-opacity="0.55" stroke-width="0.6"/>
<rect x="416.6" y="374.2" width="8.8" height="5" fill="#e0e0e0" stroke="#5a5a5a" stroke-opacity="0.55" stroke-width="0.6"/>
<rect x="416.6" y="381.26" width="8.8" height="5" fill="#e0e0e0" stroke="#5a5a5a" stroke-opacity="0.55" stroke-width="0.6"/>
<rect x="416.6" y="388.32" width="8.8" height="5" fill="#e0e0e0" stroke="#5a5a5a" stroke-opacity="0.55" stroke-width="0.6"/>
<rect x="416.6" y="395.38" width="8.8" height="5" fill="#e0e0e0" stroke="#5a5a5a" stroke-opacity="0.55" stroke-width="0.6"/>
<rect x="416.6" y="402.44" width="8.8" height="5" fill="#e0e0e0" stroke="#5a5a5a" stroke-opacity="0.55" stroke-width="0.6"/>
<rect x="416.6" y="409.5" width="8.8" height="5" fill="#e0e0e0" stroke="#5a5a5a" stroke-opacity="0.55" stroke-width="0.6"/>
<rect x="427" y="374.2" width="8.8" height="5" fill="#e0e0e0" stroke="#5a5a5a" stroke-opacity="0.55" stroke-width="0.6"/>
<rect x="427" y="381.26" width="8.8" height="5" fill="#e0e0e0" stroke="#5a5a5a" stroke-opacity="0.55" stroke-width="0.6"/>
<rect x="427" y="388.32" width="8.8" height="5" fill="#e0e0e0" stroke="#5a5a5a" stroke-opacity="0.55" stroke-width="0.6"/>
<rect x="427" y="395.38" width="8.8" height="5" fill="#e0e0e0" stroke="#5a5a5a" stroke-opacity="0.55" stroke-width="0.6"/>
<rect x="427" y="402.44" width="8.8" height="5" fill="#e0e0e0" stroke="#5a5a5a" stroke-opacity="0.55" stroke-width="0.6"/>
<rect x="427" y="409.5" width="8.8" height="5" fill="#e0e0e0" stroke="#5a5a5a" stroke-opacity="0.55" stroke-width="0.6"/>
<rect x="427" y="416.56" width="8.8" height="5" fill="#e0e0e0" stroke="#5a5a5a" stroke-opacity="0.55" stroke-width="0.6"/>
<rect x="437.4" y="374.2" width="8.8" height="5" fill="#e0e0e0" stroke="#5a5a5a" stroke-opacity="0.55" stroke-width="0.6"/>
<rect x="437.4" y="381.26" width="8.8" height="5" fill="#e0e0e0" stroke="#5a5a5a" stroke-opacity="0.55" stroke-width="0.6"/>
<rect x="437.4" y="388.32" width="8.8" height="5" fill="#e0e0e0" stroke="#5a5a5a" stroke-opacity="0.55" stroke-width="0.6"/>
<rect x="437.4" y="395.38" width="8.8" height="5" fill="#e0e0e0" stroke="#5a5a5a" stroke-opacity="0.55" stroke-width="0.6"/>
<rect x="437.4" y="402.44" width="8.8" height="5" fill="#e0e0e0" stroke="#5a5a5a" stroke-opacity="0.55" stroke-width="0.6"/>
<rect x="437.4" y="409.5" width="8.8" height="5" fill="#e0e0e0" stroke="#5a5a5a" stroke-opacity="0.55" stroke-width="0.6"/>
<rect x="437.4" y="416.56" width="8.8" height="5" fill="#e0e0e0" stroke="#5a5a5a" stroke-opacity="0.55" stroke-width="0.6"/>
<rect x="437.4" y="423.62" width="8.8" height="5" fill="#e0e0e0" stroke="#5a5a5a" stroke-opacity="0.55" stroke-width="0.6"/>
<rect x="447.8" y="374.2" width="8.8" height="5" fill="#e0e0e0" stroke="#5a5a5a" stroke-opacity="0.55" stroke-width="0.6"/>
<rect x="447.8" y="381.26" width="8.8" height="5" fill="#e0e0e0" stroke="#5a5a5a" stroke-opacity="0.55" stroke-width="0.6"/>
<rect x="447.8" y="388.32" width="8.8" height="5" fill="#e0e0e0" stroke="#5a5a5a" stroke-opacity="0.55" stroke-width="0.6"/>
<rect x="447.8" y="395.38" width="8.8" height="5" fill="#e0e0e0" stroke="#5a5a5a" stroke-opacity="0.55" stroke-width="0.6"/>
<rect x="447.8" y="402.44" width="8.8" height="5" fill="#e0e0e0" stroke="#5a5a5a" stroke-opacity="0.55" stroke-width="0.6"/>
<rect x="447.8" y="409.5" width="8.8" height="5" fill="#e0e0e0" stroke="#5a5a5a" stroke-opacity="0.55" stroke-width="0.6"/>
<rect x="447.8" y="416.56" width="8.8" height="5" fill="#e0e0e0" stroke="#5a5a5a" stroke-opacity="0.55" stroke-width="0.6"/>
<rect x="447.8" y="423.62" width="8.8" height="5" fill="#e0e0e0" stroke="#5a5a5a" stroke-opacity="0.55" stroke-width="0.6"/>
<rect x="447.8" y="430.68" width="8.8" height="5" fill="#e0e0e0" stroke="#5a5a5a" stroke-opacity="0.55" stroke-width="0.6"/>
<rect x="458.2" y="374.2" width="8.8" height="5" fill="#e0e0e0" stroke="#5a5a5a" stroke-opacity="0.55" stroke-width="0.6"/>
<rect x="458.2" y="381.26" width="8.8" height="5" fill="#e0e0e0" stroke="#5a5a5a" stroke-opacity="0.55" stroke-width="0.6"/>
<rect x="458.2" y="388.32" width="8.8" height="5" fill="#e0e0e0" stroke="#5a5a5a" stroke-opacity="0.55" stroke-width="0.6"/>
<rect x="458.2" y="395.38" width="8.8" height="5" fill="#e0e0e0" stroke="#5a5a5a" stroke-opacity="0.55" stroke-width="0.6"/>
<rect x="458.2" y="402.44" width="8.8" height="5" fill="#e0e0e0" stroke="#5a5a5a" stroke-opacity="0.55" stroke-width="0.6"/>
<rect x="458.2" y="409.5" width="8.8" height="5" fill="#e0e0e0" stroke="#5a5a5a" stroke-opacity="0.55" stroke-width="0.6"/>
<rect x="458.2" y="416.56" width="8.8" height="5" fill="#e0e0e0" stroke="#5a5a5a" stroke-opacity="0.55" stroke-width="0.6"/>
<rect x="458.2" y="423.62" width="8.8" height="5" fill="#e0e0e0" stroke="#5a5a5a" stroke-opacity="0.55" stroke-width="0.6"/>
<rect x="458.2" y="430.68" width="8.8" height="5" fill="#e0e0e0" stroke="#5a5a5a" stroke-opacity="0.55" stroke-width="0.6"/>
<line x1="405.9" y1="387.29" x2="467.3" y2="387.29" stroke="#000" stroke-width="1.45"/>
<line x1="405.9" y1="401.41" x2="467.3" y2="401.41" stroke="#000" stroke-width="1.45"/>
<line x1="416.3" y1="408.47" x2="467.3" y2="408.47" stroke="#000" stroke-width="1.45"/>
<line x1="426.2" y1="373.9" x2="426.2" y2="414.8" stroke="#000" stroke-width="1.45"/>
<line x1="447" y1="373.9" x2="447" y2="428.92" stroke="#000" stroke-width="1.45"/>
<line x1="457.4" y1="373.9" x2="457.4" y2="435.98" stroke="#3f5a42" stroke-width="1.3"/>
<line x1="415.8" y1="415.53" x2="426.2" y2="415.53" stroke="#789a26" stroke-width="1"/>
<line x1="426.2" y1="422.59" x2="436.6" y2="422.59" stroke="#789a26" stroke-width="1"/>
<line x1="436.6" y1="429.65" x2="447" y2="429.65" stroke="#789a26" stroke-width="1"/>
<line x1="415.8" y1="401.41" x2="415.8" y2="408.47" stroke="#789a26" stroke-width="1"/>
<line x1="415.8" y1="408.47" x2="415.8" y2="415.53" stroke="#789a26" stroke-width="1"/>
<line x1="426.2" y1="415.53" x2="426.2" y2="422.59" stroke="#789a26" stroke-width="1"/>
<line x1="436.6" y1="422.59" x2="436.6" y2="429.65" stroke="#789a26" stroke-width="1"/>
<line x1="447" y1="429.65" x2="447" y2="436.71" stroke="#789a26" stroke-width="1"/>
<rect x="504.6" y="370.9" width="63.9" height="66.4" fill="none" stroke="#789a26" stroke-width="1.6"/>
<rect x="506" y="374.2" width="8.6" height="5" fill="#e0e0e0" stroke="#5a5a5a" stroke-opacity="0.55" stroke-width="0.6"/>
<rect x="506" y="381.26" width="8.6" height="5" fill="#e0e0e0" stroke="#5a5a5a" stroke-opacity="0.55" stroke-width="0.6"/>
<rect x="506" y="388.32" width="8.6" height="5" fill="#e0e0e0" stroke="#5a5a5a" stroke-opacity="0.55" stroke-width="0.6"/>
<rect x="506" y="395.38" width="8.6" height="5" fill="#e0e0e0" stroke="#5a5a5a" stroke-opacity="0.55" stroke-width="0.6"/>
<rect x="506" y="402.44" width="8.6" height="5" fill="#e0e0e0" stroke="#5a5a5a" stroke-opacity="0.55" stroke-width="0.6"/>
<rect x="506" y="409.5" width="8.6" height="5" fill="#e0e0e0" stroke="#5a5a5a" stroke-opacity="0.55" stroke-width="0.6"/>
<rect x="506" y="416.56" width="8.6" height="5" fill="#e0e0e0" stroke="#5a5a5a" stroke-opacity="0.55" stroke-width="0.6"/>
<rect x="506" y="423.62" width="8.6" height="5" fill="#e0e0e0" stroke="#5a5a5a" stroke-opacity="0.55" stroke-width="0.6"/>
<rect x="506" y="430.68" width="8.6" height="5" fill="#e0e0e0" stroke="#5a5a5a" stroke-opacity="0.55" stroke-width="0.6"/>
<rect x="516.45" y="374.2" width="8.6" height="5" fill="#e0e0e0" stroke="#5a5a5a" stroke-opacity="0.55" stroke-width="0.6"/>
<rect x="516.45" y="381.26" width="8.6" height="5" fill="#e0e0e0" stroke="#5a5a5a" stroke-opacity="0.55" stroke-width="0.6"/>
<rect x="516.45" y="388.32" width="8.6" height="5" fill="#e0e0e0" stroke="#5a5a5a" stroke-opacity="0.55" stroke-width="0.6"/>
<rect x="516.45" y="395.38" width="8.6" height="5" fill="#e0e0e0" stroke="#5a5a5a" stroke-opacity="0.55" stroke-width="0.6"/>
<rect x="516.45" y="402.44" width="8.6" height="5" fill="#e0e0e0" stroke="#5a5a5a" stroke-opacity="0.55" stroke-width="0.6"/>
<rect x="516.45" y="409.5" width="8.6" height="5" fill="#e0e0e0" stroke="#5a5a5a" stroke-opacity="0.55" stroke-width="0.6"/>
<rect x="516.45" y="416.56" width="8.6" height="5" fill="#e0e0e0" stroke="#5a5a5a" stroke-opacity="0.55" stroke-width="0.6"/>
<rect x="516.45" y="423.62" width="8.6" height="5" fill="#e0e0e0" stroke="#5a5a5a" stroke-opacity="0.55" stroke-width="0.6"/>
<rect x="516.45" y="430.68" width="8.6" height="5" fill="#e0e0e0" stroke="#5a5a5a" stroke-opacity="0.55" stroke-width="0.6"/>
<rect x="526.9" y="374.2" width="8.6" height="5" fill="#e0e0e0" stroke="#5a5a5a" stroke-opacity="0.55" stroke-width="0.6"/>
<rect x="526.9" y="381.26" width="8.6" height="5" fill="#e0e0e0" stroke="#5a5a5a" stroke-opacity="0.55" stroke-width="0.6"/>
<rect x="526.9" y="388.32" width="8.6" height="5" fill="#e0e0e0" stroke="#5a5a5a" stroke-opacity="0.55" stroke-width="0.6"/>
<rect x="526.9" y="395.38" width="8.6" height="5" fill="#e0e0e0" stroke="#5a5a5a" stroke-opacity="0.55" stroke-width="0.6"/>
<rect x="526.9" y="402.44" width="8.6" height="5" fill="#e0e0e0" stroke="#5a5a5a" stroke-opacity="0.55" stroke-width="0.6"/>
<rect x="526.9" y="409.5" width="8.6" height="5" fill="#e0e0e0" stroke="#5a5a5a" stroke-opacity="0.55" stroke-width="0.6"/>
<rect x="526.9" y="416.56" width="8.6" height="5" fill="#e0e0e0" stroke="#5a5a5a" stroke-opacity="0.55" stroke-width="0.6"/>
<rect x="526.9" y="423.62" width="8.6" height="5" fill="#e0e0e0" stroke="#5a5a5a" stroke-opacity="0.55" stroke-width="0.6"/>
<rect x="537.35" y="374.2" width="8.6" height="5" fill="#e0e0e0" stroke="#5a5a5a" stroke-opacity="0.55" stroke-width="0.6"/>
<rect x="537.35" y="381.26" width="8.6" height="5" fill="#e0e0e0" stroke="#5a5a5a" stroke-opacity="0.55" stroke-width="0.6"/>
<rect x="537.35" y="388.32" width="8.6" height="5" fill="#e0e0e0" stroke="#5a5a5a" stroke-opacity="0.55" stroke-width="0.6"/>
<rect x="537.35" y="395.38" width="8.6" height="5" fill="#e0e0e0" stroke="#5a5a5a" stroke-opacity="0.55" stroke-width="0.6"/>
<rect x="537.35" y="402.44" width="8.6" height="5" fill="#e0e0e0" stroke="#5a5a5a" stroke-opacity="0.55" stroke-width="0.6"/>
<rect x="537.35" y="409.5" width="8.6" height="5" fill="#e0e0e0" stroke="#5a5a5a" stroke-opacity="0.55" stroke-width="0.6"/>
<rect x="537.35" y="416.56" width="8.6" height="5" fill="#e0e0e0" stroke="#5a5a5a" stroke-opacity="0.55" stroke-width="0.6"/>
<rect x="547.8" y="374.2" width="8.6" height="5" fill="#e0e0e0" stroke="#5a5a5a" stroke-opacity="0.55" stroke-width="0.6"/>
<rect x="547.8" y="381.26" width="8.6" height="5" fill="#e0e0e0" stroke="#5a5a5a" stroke-opacity="0.55" stroke-width="0.6"/>
<rect x="547.8" y="388.32" width="8.6" height="5" fill="#e0e0e0" stroke="#5a5a5a" stroke-opacity="0.55" stroke-width="0.6"/>
<rect x="547.8" y="395.38" width="8.6" height="5" fill="#e0e0e0" stroke="#5a5a5a" stroke-opacity="0.55" stroke-width="0.6"/>
<rect x="547.8" y="402.44" width="8.6" height="5" fill="#e0e0e0" stroke="#5a5a5a" stroke-opacity="0.55" stroke-width="0.6"/>
<rect x="547.8" y="409.5" width="8.6" height="5" fill="#e0e0e0" stroke="#5a5a5a" stroke-opacity="0.55" stroke-width="0.6"/>
<rect x="558.25" y="374.2" width="8.6" height="5" fill="#e0e0e0" stroke="#5a5a5a" stroke-opacity="0.55" stroke-width="0.6"/>
<rect x="558.25" y="381.26" width="8.6" height="5" fill="#e0e0e0" stroke="#5a5a5a" stroke-opacity="0.55" stroke-width="0.6"/>
<rect x="558.25" y="388.32" width="8.6" height="5" fill="#e0e0e0" stroke="#5a5a5a" stroke-opacity="0.55" stroke-width="0.6"/>
<rect x="558.25" y="395.38" width="8.6" height="5" fill="#e0e0e0" stroke="#5a5a5a" stroke-opacity="0.55" stroke-width="0.6"/>
<line x1="505.7" y1="380.23" x2="567.15" y2="380.23" stroke="#000" stroke-width="1.45"/>
<line x1="505.7" y1="387.29" x2="567.15" y2="387.29" stroke="#000" stroke-width="1.45"/>
<line x1="505.7" y1="394.35" x2="567.15" y2="394.35" stroke="#000" stroke-width="1.45"/>
<line x1="505.7" y1="401.41" x2="556.7" y2="401.41" stroke="#3f5a42" stroke-width="1.3"/>
<line x1="505.7" y1="429.65" x2="525.35" y2="429.65" stroke="#3f5a42" stroke-width="1.3"/>
<line x1="515.52" y1="373.9" x2="515.52" y2="435.98" stroke="#3f5a42" stroke-width="1.3"/>
<line x1="525.98" y1="373.9" x2="525.98" y2="428.92" stroke="#000" stroke-width="1.45"/>
<line x1="546.88" y1="373.9" x2="546.88" y2="414.8" stroke="#3f5a42" stroke-width="1.3"/>
<line x1="557.32" y1="373.9" x2="557.32" y2="400.68" stroke="#000" stroke-width="1.45"/>
<line x1="557.33" y1="401.41" x2="567.77" y2="401.41" stroke="#789a26" stroke-width="1"/>
<line x1="546.88" y1="415.53" x2="557.32" y2="415.53" stroke="#789a26" stroke-width="1"/>
<line x1="536.43" y1="422.59" x2="546.88" y2="422.59" stroke="#789a26" stroke-width="1"/>
<line x1="525.98" y1="429.65" x2="536.42" y2="429.65" stroke="#789a26" stroke-width="1"/>
<line x1="525.98" y1="429.65" x2="525.98" y2="436.71" stroke="#789a26" stroke-width="1"/>
<line x1="536.42" y1="422.59" x2="536.42" y2="429.65" stroke="#789a26" stroke-width="1"/>
<line x1="546.88" y1="415.53" x2="546.88" y2="422.59" stroke="#789a26" stroke-width="1"/>
<line x1="557.32" y1="401.41" x2="557.32" y2="408.47" stroke="#789a26" stroke-width="1"/>
<line x1="557.32" y1="408.47" x2="557.32" y2="415.53" stroke="#789a26" stroke-width="1"/>
<rect x="393" y="368.9" width="75.6" height="3.3" fill="#789a26"/>
<rect x="503.8" y="368.9" width="75.2" height="4.9" fill="#789a26"/>
<path d="M190 99.2 L445.5 99.2 L445.5 277" fill="none" stroke="#000" stroke-width="1.2" stroke-dasharray="3.6 2.3"/>
<path d="M190 241.3 L424.7 241.3 L424.7 346" fill="none" stroke="#000" stroke-width="1.2" stroke-dasharray="3.6 2.3"/>
<path d="M192 456.5 L435.5 456.5 L435.5 413" fill="none" stroke="#000" stroke-width="1.2" stroke-dasharray="3.6 2.3"/>
<path d="M190 600.3 L486.5 600.3 L486.5 419" fill="none" stroke="#000" stroke-width="1.2" stroke-dasharray="3.6 2.3"/>
<path d="M788 99.8 L486.5 99.8 L486.5 271" fill="none" stroke="#000" stroke-width="1.8" stroke-dasharray="3.6 2.3"/>
<path d="M788 241 L546.6 241 L546.6 305" fill="none" stroke="#000" stroke-width="1.8" stroke-dasharray="3.6 2.3"/>
<path d="M788 457.3 L549.3 457.3 L549.3 355" fill="none" stroke="#000" stroke-width="1.2" stroke-dasharray="3.6 2.3"/>
<path d="M788 600.4 L525 600.4 L525 413" fill="none" stroke="#000" stroke-width="1.2" stroke-dasharray="3.6 2.3"/>
<circle cx="485.8" cy="348.4" r="101.5" fill="none" stroke="#f0218c" stroke-width="1.9"/>
<circle cx="445.4" cy="277.4" r="3.6" fill="#000"/>
<circle cx="486.3" cy="272.2" r="3.6" fill="#000"/>
<circle cx="546.9" cy="304.6" r="3.6" fill="#000"/>
<circle cx="424.8" cy="345.7" r="3.6" fill="#000"/>
<circle cx="550" cy="355.1" r="3.6" fill="#000"/>
<circle cx="486" cy="420.2" r="3.6" fill="#000"/>
<circle cx="435.3" cy="412.6" r="3.6" fill="#000"/>
<circle cx="524.8" cy="413.9" r="3.6" fill="#000"/>
<text x="192.2" y="95" class="tx" text-anchor="start" textLength="44" lengthAdjust="spacingAndGlyphs">10 µm</text>
<text x="192.2" y="235" class="tx" text-anchor="start" textLength="45" lengthAdjust="spacingAndGlyphs">40 µm</text>
<text x="194.3" y="450.8" class="tx" text-anchor="start" textLength="45" lengthAdjust="spacingAndGlyphs">70 µm</text>
<text x="200.5" y="592.6" class="tx" text-anchor="start" textLength="18" lengthAdjust="spacingAndGlyphs">All</text>
<text x="742.3" y="95" class="tx" text-anchor="start" textLength="44" lengthAdjust="spacingAndGlyphs">20 µm</text>
<text x="742.3" y="235" class="tx" text-anchor="start" textLength="44" lengthAdjust="spacingAndGlyphs">30 µm</text>
<text x="741.3" y="450.8" class="tx" text-anchor="start" textLength="43" lengthAdjust="spacingAndGlyphs">50 µm</text>
<text x="733.3" y="592.1" class="tx" text-anchor="start" textLength="52" lengthAdjust="spacingAndGlyphs">100 µm</text>
</svg>
</body></html>
